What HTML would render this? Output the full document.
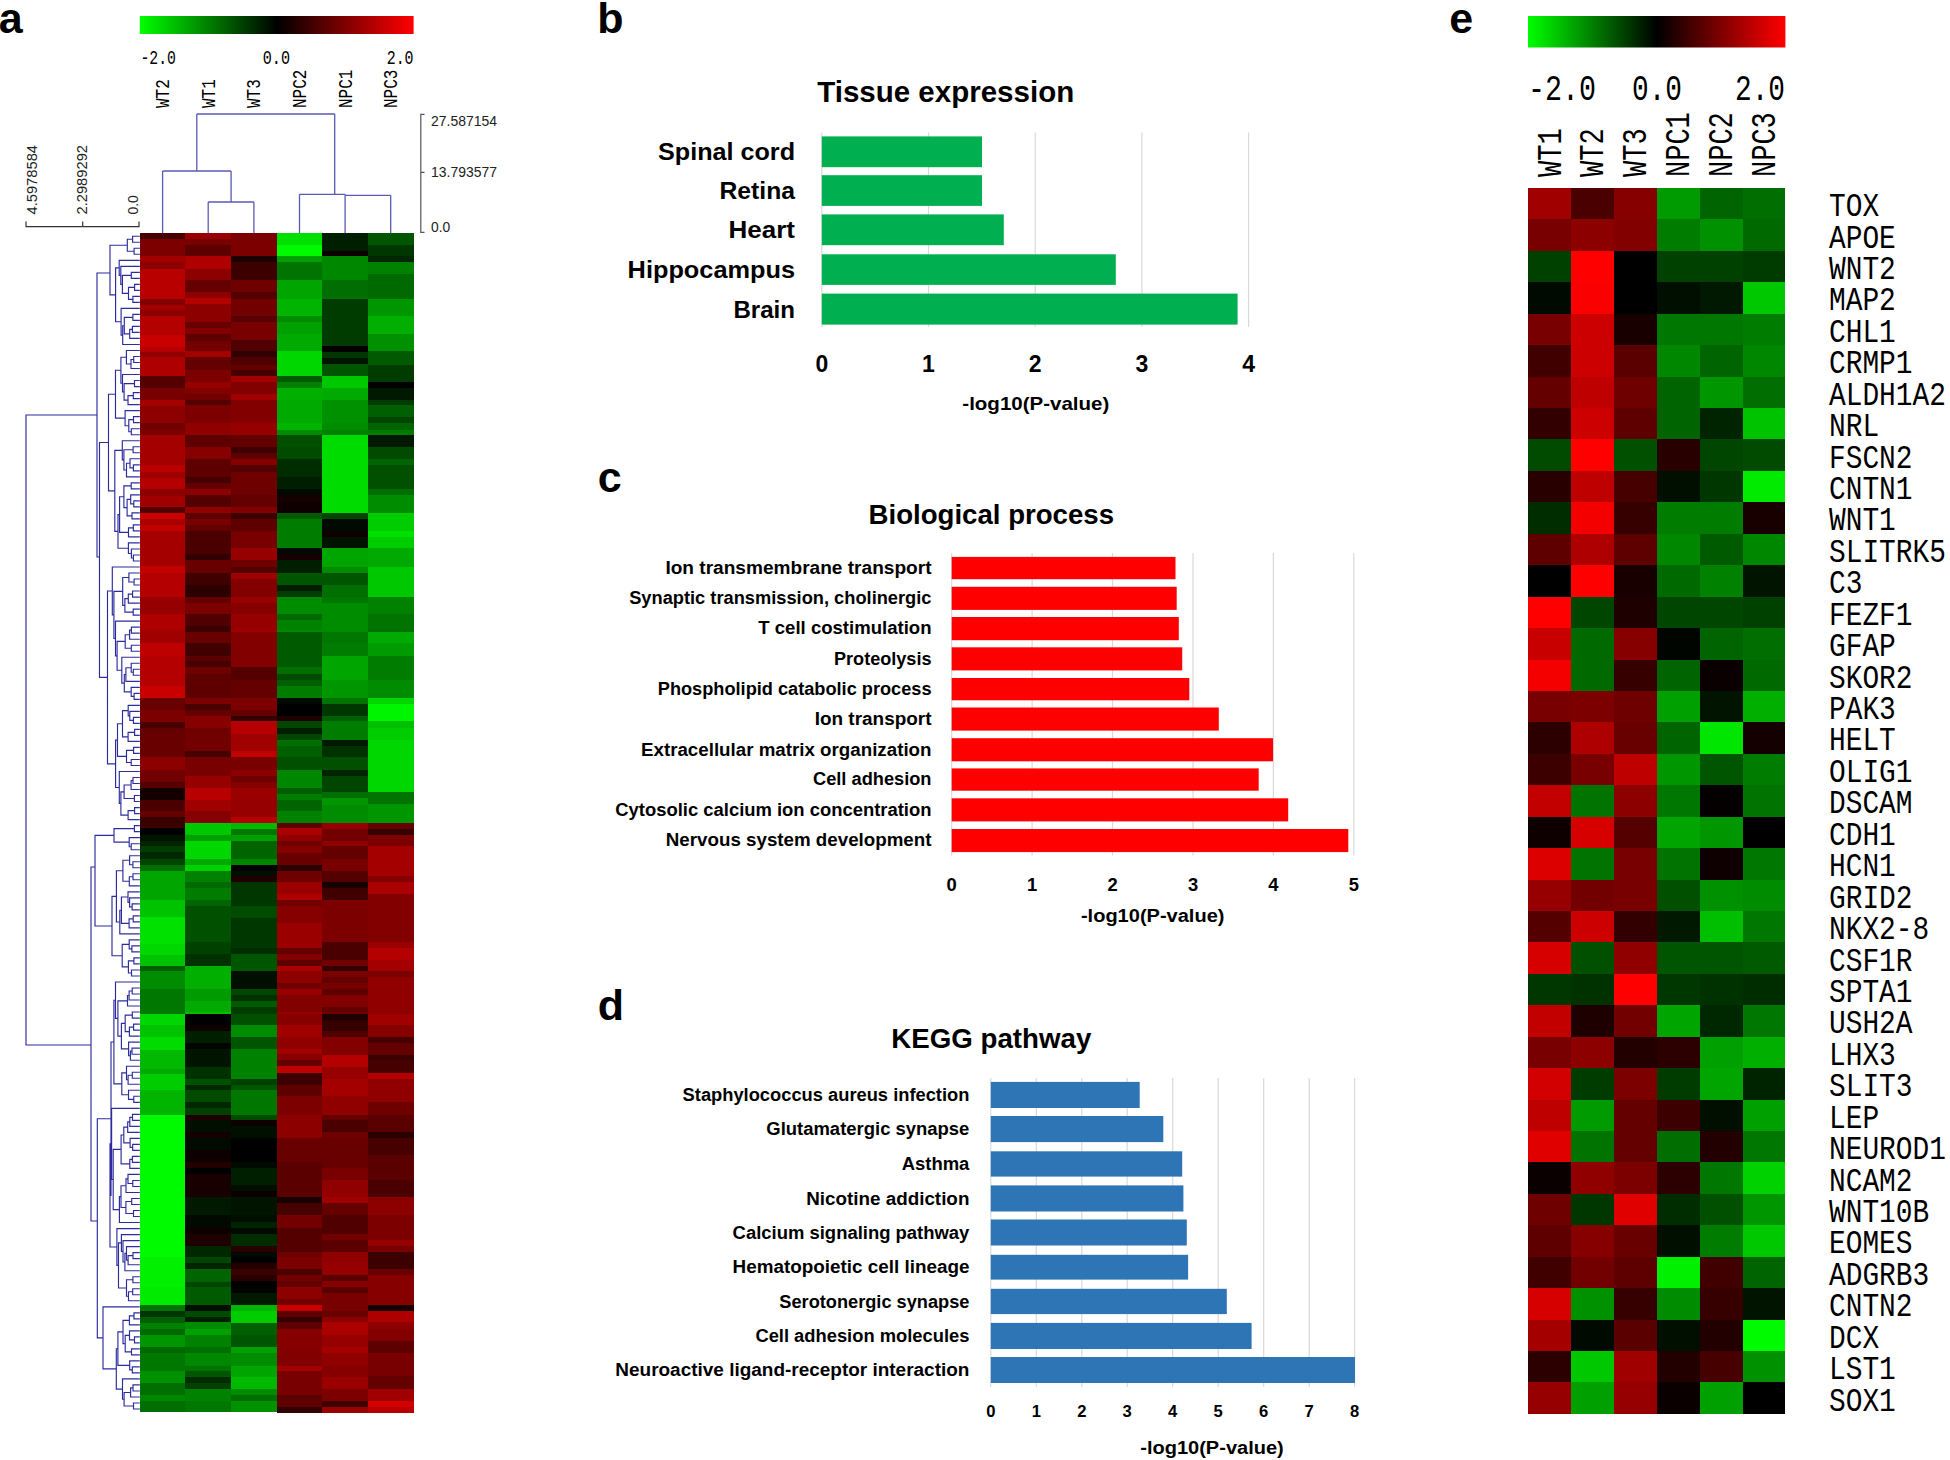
<!DOCTYPE html>
<html lang="en"><head><meta charset="utf-8"><title>Figure</title>
<style>html,body{margin:0;padding:0;background:#fff}svg{display:block}.s{font-family:"Liberation Sans",sans-serif}.m{font-family:"Liberation Mono",monospace}</style></head><body>
<svg width="1950" height="1460" viewBox="0 0 1950 1460">
<defs><linearGradient id="g" x1="0" x2="1" y1="0" y2="0"><stop offset="0" stop-color="#00ff00"/><stop offset="0.5" stop-color="#000"/><stop offset="1" stop-color="#ff0000"/></linearGradient></defs>
<rect width="1950" height="1460" fill="#fff"/>
<text class="s" x="-1.3" y="33.0" font-size="43.0" font-weight="bold">a</text>
<text class="s" x="597.2" y="32.5" font-size="43.0" font-weight="bold">b</text>
<text class="s" x="597.7" y="491.8" font-size="43.0" font-weight="bold">c</text>
<text class="s" x="597.8" y="1020.2" font-size="43.0" font-weight="bold">d</text>
<text class="s" x="1449.2" y="32.5" font-size="43.0" font-weight="bold">e</text>
<rect x="139.8" y="16" width="273.8" height="18" fill="url(#g)"/>
<text class="m" x="140.5" y="64.0" font-size="21.0" textLength="35.5" lengthAdjust="spacingAndGlyphs">-2.0</text>
<text class="m" x="262.7" y="64.0" font-size="21.0" textLength="27.3" lengthAdjust="spacingAndGlyphs">0.0</text>
<text class="m" x="386.7" y="64.0" font-size="21.0" textLength="26.9" lengthAdjust="spacingAndGlyphs">2.0</text>
<text class="m" x="169.1" y="108.0" font-size="20.3" textLength="28.8" lengthAdjust="spacingAndGlyphs" transform="rotate(-90 169.1 108.0)">WT2</text>
<text class="m" x="214.7" y="108.0" font-size="20.3" textLength="28.8" lengthAdjust="spacingAndGlyphs" transform="rotate(-90 214.7 108.0)">WT1</text>
<text class="m" x="260.4" y="108.0" font-size="20.3" textLength="28.8" lengthAdjust="spacingAndGlyphs" transform="rotate(-90 260.4 108.0)">WT3</text>
<text class="m" x="306.0" y="108.0" font-size="20.3" textLength="38.4" lengthAdjust="spacingAndGlyphs" transform="rotate(-90 306.0 108.0)">NPC2</text>
<text class="m" x="351.6" y="108.0" font-size="20.3" textLength="38.4" lengthAdjust="spacingAndGlyphs" transform="rotate(-90 351.6 108.0)">NPC1</text>
<text class="m" x="397.2" y="108.0" font-size="20.3" textLength="38.4" lengthAdjust="spacingAndGlyphs" transform="rotate(-90 397.2 108.0)">NPC3</text>
<g shape-rendering="crispEdges">
<rect x="139.8" y="233.2" width="45.9" height="6.0" fill="#460000"/>
<rect x="139.8" y="238.8" width="45.9" height="17.9" fill="#7d0000"/>
<rect x="139.8" y="256.3" width="45.9" height="6.2" fill="#a00000"/>
<rect x="139.8" y="262.2" width="45.9" height="7.0" fill="#8c0000"/>
<rect x="139.8" y="268.7" width="45.9" height="30.4" fill="#b90000"/>
<rect x="139.8" y="298.7" width="45.9" height="6.2" fill="#820000"/>
<rect x="139.8" y="304.5" width="45.9" height="6.2" fill="#a50000"/>
<rect x="139.8" y="310.4" width="45.9" height="6.2" fill="#8c0000"/>
<rect x="139.8" y="316.2" width="45.9" height="19.4" fill="#b40000"/>
<rect x="139.8" y="335.2" width="45.9" height="12.1" fill="#c80000"/>
<rect x="139.8" y="346.9" width="45.9" height="5.5" fill="#b40000"/>
<rect x="139.8" y="352.0" width="45.9" height="5.5" fill="#910000"/>
<rect x="139.8" y="357.2" width="45.9" height="19.4" fill="#af0000"/>
<rect x="139.8" y="376.2" width="45.9" height="12.1" fill="#550000"/>
<rect x="139.8" y="387.8" width="45.9" height="12.1" fill="#780000"/>
<rect x="139.8" y="399.5" width="45.9" height="7.0" fill="#a50000"/>
<rect x="139.8" y="406.1" width="45.9" height="17.2" fill="#8c0000"/>
<rect x="139.8" y="422.9" width="45.9" height="7.4" fill="#730000"/>
<rect x="139.8" y="430.0" width="45.9" height="5.5" fill="#7d0000"/>
<rect x="139.8" y="435.1" width="45.9" height="30.4" fill="#a50000"/>
<rect x="139.8" y="465.1" width="45.9" height="7.0" fill="#b90000"/>
<rect x="139.8" y="471.7" width="45.9" height="6.2" fill="#a00000"/>
<rect x="139.8" y="477.5" width="45.9" height="11.4" fill="#b40000"/>
<rect x="139.8" y="488.5" width="45.9" height="7.7" fill="#8c0000"/>
<rect x="139.8" y="495.8" width="45.9" height="11.4" fill="#a00000"/>
<rect x="139.8" y="506.7" width="45.9" height="6.2" fill="#500000"/>
<rect x="139.8" y="512.6" width="45.9" height="7.0" fill="#cd0000"/>
<rect x="139.8" y="519.2" width="45.9" height="6.2" fill="#aa0000"/>
<rect x="139.8" y="525.0" width="45.9" height="6.2" fill="#c30000"/>
<rect x="139.8" y="530.8" width="45.9" height="35.5" fill="#a50000"/>
<rect x="139.8" y="565.9" width="45.9" height="7.0" fill="#c30000"/>
<rect x="139.8" y="572.5" width="45.9" height="24.5" fill="#b40000"/>
<rect x="139.8" y="596.6" width="45.9" height="17.9" fill="#960000"/>
<rect x="139.8" y="614.2" width="45.9" height="16.2" fill="#af0000"/>
<rect x="139.8" y="630.0" width="45.9" height="13.6" fill="#a00000"/>
<rect x="139.8" y="643.2" width="45.9" height="13.6" fill="#be0000"/>
<rect x="139.8" y="656.3" width="45.9" height="29.6" fill="#b40000"/>
<rect x="139.8" y="685.5" width="45.9" height="12.8" fill="#c80000"/>
<rect x="139.8" y="698.0" width="45.9" height="12.8" fill="#690000"/>
<rect x="139.8" y="710.4" width="45.9" height="12.1" fill="#7d0000"/>
<rect x="139.8" y="722.1" width="45.9" height="6.2" fill="#460000"/>
<rect x="139.8" y="727.9" width="45.9" height="6.2" fill="#640000"/>
<rect x="139.8" y="733.8" width="45.9" height="23.8" fill="#690000"/>
<rect x="139.8" y="757.2" width="45.9" height="12.8" fill="#8c0000"/>
<rect x="139.8" y="769.6" width="45.9" height="12.8" fill="#730000"/>
<rect x="139.8" y="782.0" width="45.9" height="6.2" fill="#550000"/>
<rect x="139.8" y="787.8" width="45.9" height="12.1" fill="#140000"/>
<rect x="139.8" y="799.5" width="45.9" height="12.1" fill="#4b0000"/>
<rect x="139.8" y="811.2" width="45.9" height="6.2" fill="#640000"/>
<rect x="139.8" y="817.1" width="45.9" height="6.0" fill="#370000"/>
<rect x="139.8" y="822.6" width="45.9" height="6.0" fill="#3c0000"/>
<rect x="139.8" y="828.2" width="45.9" height="7.0" fill="#000000"/>
<rect x="139.8" y="834.7" width="45.9" height="6.2" fill="#001400"/>
<rect x="139.8" y="840.6" width="45.9" height="6.2" fill="#002300"/>
<rect x="139.8" y="846.4" width="45.9" height="6.2" fill="#003c00"/>
<rect x="139.8" y="852.3" width="45.9" height="7.0" fill="#002800"/>
<rect x="139.8" y="858.8" width="45.9" height="6.2" fill="#004600"/>
<rect x="139.8" y="864.7" width="45.9" height="6.2" fill="#006e00"/>
<rect x="139.8" y="870.5" width="45.9" height="29.6" fill="#00a500"/>
<rect x="139.8" y="899.8" width="45.9" height="17.9" fill="#00c300"/>
<rect x="139.8" y="917.3" width="45.9" height="26.7" fill="#00e100"/>
<rect x="139.8" y="943.6" width="45.9" height="12.1" fill="#00d700"/>
<rect x="139.8" y="955.3" width="45.9" height="11.4" fill="#00c300"/>
<rect x="139.8" y="966.3" width="45.9" height="5.5" fill="#005f00"/>
<rect x="139.8" y="971.4" width="45.9" height="17.9" fill="#008c00"/>
<rect x="139.8" y="988.9" width="45.9" height="23.8" fill="#007800"/>
<rect x="139.8" y="1012.3" width="45.9" height="1.7" fill="#007800"/>
<rect x="139.8" y="1013.7" width="45.9" height="12.1" fill="#00d700"/>
<rect x="139.8" y="1025.3" width="45.9" height="12.1" fill="#00c300"/>
<rect x="139.8" y="1037.0" width="45.9" height="12.8" fill="#00dc00"/>
<rect x="139.8" y="1049.5" width="45.9" height="19.4" fill="#00b900"/>
<rect x="139.8" y="1068.5" width="45.9" height="6.2" fill="#00aa00"/>
<rect x="139.8" y="1074.3" width="45.9" height="16.5" fill="#00cd00"/>
<rect x="139.8" y="1090.4" width="45.9" height="24.5" fill="#00b400"/>
<rect x="139.8" y="1114.5" width="45.9" height="100.5" fill="#00fa00"/>
<rect x="139.8" y="1214.6" width="45.9" height="43.2" fill="#00fa00"/>
<rect x="139.8" y="1257.4" width="45.9" height="29.6" fill="#00f000"/>
<rect x="139.8" y="1286.6" width="45.9" height="18.7" fill="#00eb00"/>
<rect x="139.8" y="1304.9" width="45.9" height="6.2" fill="#007300"/>
<rect x="139.8" y="1310.7" width="45.9" height="7.0" fill="#003700"/>
<rect x="139.8" y="1317.3" width="45.9" height="6.2" fill="#005f00"/>
<rect x="139.8" y="1323.2" width="45.9" height="6.2" fill="#008200"/>
<rect x="139.8" y="1329.0" width="45.9" height="6.2" fill="#006900"/>
<rect x="139.8" y="1334.8" width="45.9" height="12.1" fill="#009600"/>
<rect x="139.8" y="1346.5" width="45.9" height="7.0" fill="#006900"/>
<rect x="139.8" y="1353.1" width="45.9" height="18.7" fill="#007800"/>
<rect x="139.8" y="1371.4" width="45.9" height="12.1" fill="#009100"/>
<rect x="139.8" y="1383.1" width="45.9" height="12.1" fill="#006e00"/>
<rect x="139.8" y="1394.8" width="45.9" height="6.2" fill="#008700"/>
<rect x="139.8" y="1400.6" width="45.9" height="11.8" fill="#006e00"/>
<rect x="185.4" y="233.2" width="45.9" height="6.0" fill="#960000"/>
<rect x="185.4" y="238.8" width="45.9" height="6.2" fill="#780000"/>
<rect x="185.4" y="244.6" width="45.9" height="12.1" fill="#5f0000"/>
<rect x="185.4" y="256.3" width="45.9" height="12.8" fill="#af0000"/>
<rect x="185.4" y="268.7" width="45.9" height="12.1" fill="#8c0000"/>
<rect x="185.4" y="280.4" width="45.9" height="12.1" fill="#640000"/>
<rect x="185.4" y="292.1" width="45.9" height="6.2" fill="#8c0000"/>
<rect x="185.4" y="298.0" width="45.9" height="6.2" fill="#b40000"/>
<rect x="185.4" y="303.8" width="45.9" height="18.7" fill="#8c0000"/>
<rect x="185.4" y="322.1" width="45.9" height="6.2" fill="#690000"/>
<rect x="185.4" y="327.9" width="45.9" height="6.2" fill="#820000"/>
<rect x="185.4" y="333.8" width="45.9" height="7.7" fill="#5f0000"/>
<rect x="185.4" y="341.1" width="45.9" height="10.6" fill="#730000"/>
<rect x="185.4" y="351.3" width="45.9" height="6.2" fill="#a50000"/>
<rect x="185.4" y="357.2" width="45.9" height="13.6" fill="#640000"/>
<rect x="185.4" y="370.3" width="45.9" height="12.1" fill="#7d0000"/>
<rect x="185.4" y="382.0" width="45.9" height="6.2" fill="#960000"/>
<rect x="185.4" y="387.8" width="45.9" height="6.2" fill="#820000"/>
<rect x="185.4" y="393.7" width="45.9" height="6.2" fill="#730000"/>
<rect x="185.4" y="399.5" width="45.9" height="6.2" fill="#550000"/>
<rect x="185.4" y="405.4" width="45.9" height="17.9" fill="#7d0000"/>
<rect x="185.4" y="422.9" width="45.9" height="7.4" fill="#910000"/>
<rect x="185.4" y="430.0" width="45.9" height="5.5" fill="#910000"/>
<rect x="185.4" y="435.1" width="45.9" height="12.1" fill="#5f0000"/>
<rect x="185.4" y="446.8" width="45.9" height="12.8" fill="#870000"/>
<rect x="185.4" y="459.2" width="45.9" height="17.9" fill="#5f0000"/>
<rect x="185.4" y="476.8" width="45.9" height="6.2" fill="#460000"/>
<rect x="185.4" y="482.6" width="45.9" height="6.2" fill="#640000"/>
<rect x="185.4" y="488.5" width="45.9" height="7.0" fill="#8c0000"/>
<rect x="185.4" y="495.0" width="45.9" height="12.1" fill="#550000"/>
<rect x="185.4" y="506.7" width="45.9" height="6.2" fill="#910000"/>
<rect x="185.4" y="512.6" width="45.9" height="7.0" fill="#5f0000"/>
<rect x="185.4" y="519.2" width="45.9" height="6.2" fill="#780000"/>
<rect x="185.4" y="525.0" width="45.9" height="6.2" fill="#640000"/>
<rect x="185.4" y="530.8" width="45.9" height="23.8" fill="#4b0000"/>
<rect x="185.4" y="554.2" width="45.9" height="6.2" fill="#320000"/>
<rect x="185.4" y="560.1" width="45.9" height="12.8" fill="#690000"/>
<rect x="185.4" y="572.5" width="45.9" height="12.8" fill="#410000"/>
<rect x="185.4" y="584.9" width="45.9" height="12.1" fill="#2d0000"/>
<rect x="185.4" y="596.6" width="45.9" height="6.2" fill="#640000"/>
<rect x="185.4" y="602.5" width="45.9" height="12.1" fill="#7d0000"/>
<rect x="185.4" y="614.2" width="45.9" height="12.1" fill="#500000"/>
<rect x="185.4" y="625.8" width="45.9" height="4.5" fill="#3c0000"/>
<rect x="185.4" y="630.0" width="45.9" height="2.6" fill="#3c0000"/>
<rect x="185.4" y="632.2" width="45.9" height="11.4" fill="#690000"/>
<rect x="185.4" y="643.2" width="45.9" height="13.6" fill="#410000"/>
<rect x="185.4" y="656.3" width="45.9" height="5.5" fill="#5a0000"/>
<rect x="185.4" y="661.4" width="45.9" height="6.2" fill="#460000"/>
<rect x="185.4" y="667.3" width="45.9" height="7.0" fill="#6e0000"/>
<rect x="185.4" y="673.8" width="45.9" height="24.5" fill="#5f0000"/>
<rect x="185.4" y="698.0" width="45.9" height="6.2" fill="#7d0000"/>
<rect x="185.4" y="703.8" width="45.9" height="6.2" fill="#4b0000"/>
<rect x="185.4" y="709.7" width="45.9" height="6.2" fill="#640000"/>
<rect x="185.4" y="715.5" width="45.9" height="12.8" fill="#870000"/>
<rect x="185.4" y="727.9" width="45.9" height="6.2" fill="#6e0000"/>
<rect x="185.4" y="733.8" width="45.9" height="17.9" fill="#730000"/>
<rect x="185.4" y="751.3" width="45.9" height="6.2" fill="#460000"/>
<rect x="185.4" y="757.2" width="45.9" height="19.4" fill="#780000"/>
<rect x="185.4" y="776.2" width="45.9" height="12.1" fill="#960000"/>
<rect x="185.4" y="787.8" width="45.9" height="12.1" fill="#b90000"/>
<rect x="185.4" y="799.5" width="45.9" height="12.1" fill="#a00000"/>
<rect x="185.4" y="811.2" width="45.9" height="11.8" fill="#870000"/>
<rect x="185.4" y="822.6" width="45.9" height="12.5" fill="#00c800"/>
<rect x="185.4" y="834.7" width="45.9" height="6.2" fill="#00a000"/>
<rect x="185.4" y="840.6" width="45.9" height="18.7" fill="#00d700"/>
<rect x="185.4" y="858.8" width="45.9" height="6.2" fill="#00aa00"/>
<rect x="185.4" y="864.7" width="45.9" height="6.2" fill="#00d200"/>
<rect x="185.4" y="870.5" width="45.9" height="12.1" fill="#008200"/>
<rect x="185.4" y="882.2" width="45.9" height="6.2" fill="#006900"/>
<rect x="185.4" y="888.1" width="45.9" height="12.1" fill="#007d00"/>
<rect x="185.4" y="899.8" width="45.9" height="6.2" fill="#006400"/>
<rect x="185.4" y="905.6" width="45.9" height="36.9" fill="#005000"/>
<rect x="185.4" y="942.2" width="45.9" height="12.1" fill="#004100"/>
<rect x="185.4" y="953.8" width="45.9" height="12.1" fill="#003200"/>
<rect x="185.4" y="965.5" width="45.9" height="23.8" fill="#00af00"/>
<rect x="185.4" y="988.9" width="45.9" height="12.1" fill="#009b00"/>
<rect x="185.4" y="1000.6" width="45.9" height="12.1" fill="#00aa00"/>
<rect x="185.4" y="1012.3" width="45.9" height="1.7" fill="#00be00"/>
<rect x="185.4" y="1013.7" width="45.9" height="12.1" fill="#000000"/>
<rect x="185.4" y="1025.3" width="45.9" height="6.2" fill="#0f0000"/>
<rect x="185.4" y="1031.2" width="45.9" height="12.1" fill="#001e00"/>
<rect x="185.4" y="1042.9" width="45.9" height="6.2" fill="#000500"/>
<rect x="185.4" y="1048.7" width="45.9" height="18.7" fill="#001400"/>
<rect x="185.4" y="1067.0" width="45.9" height="12.1" fill="#003200"/>
<rect x="185.4" y="1078.7" width="45.9" height="6.2" fill="#005000"/>
<rect x="185.4" y="1084.5" width="45.9" height="6.2" fill="#002800"/>
<rect x="185.4" y="1090.4" width="45.9" height="12.1" fill="#004b00"/>
<rect x="185.4" y="1102.1" width="45.9" height="6.2" fill="#002800"/>
<rect x="185.4" y="1107.9" width="45.9" height="7.0" fill="#004100"/>
<rect x="185.4" y="1114.5" width="45.9" height="6.2" fill="#1e0000"/>
<rect x="185.4" y="1120.3" width="45.9" height="12.1" fill="#000f00"/>
<rect x="185.4" y="1132.0" width="45.9" height="6.2" fill="#140000"/>
<rect x="185.4" y="1137.9" width="45.9" height="12.1" fill="#000a00"/>
<rect x="185.4" y="1149.6" width="45.9" height="12.8" fill="#0f0000"/>
<rect x="185.4" y="1162.0" width="45.9" height="6.2" fill="#230000"/>
<rect x="185.4" y="1167.8" width="45.9" height="6.2" fill="#000000"/>
<rect x="185.4" y="1173.7" width="45.9" height="23.8" fill="#190000"/>
<rect x="185.4" y="1197.1" width="45.9" height="17.9" fill="#001900"/>
<rect x="185.4" y="1214.6" width="45.9" height="13.9" fill="#000a00"/>
<rect x="185.4" y="1228.2" width="45.9" height="6.2" fill="#0f0000"/>
<rect x="185.4" y="1234.0" width="45.9" height="12.1" fill="#1e0000"/>
<rect x="185.4" y="1245.7" width="45.9" height="12.1" fill="#002800"/>
<rect x="185.4" y="1257.4" width="45.9" height="6.2" fill="#004600"/>
<rect x="185.4" y="1263.2" width="45.9" height="6.2" fill="#002300"/>
<rect x="185.4" y="1269.1" width="45.9" height="12.8" fill="#006400"/>
<rect x="185.4" y="1281.5" width="45.9" height="6.2" fill="#004600"/>
<rect x="185.4" y="1287.3" width="45.9" height="17.9" fill="#005a00"/>
<rect x="185.4" y="1304.9" width="45.9" height="6.2" fill="#000f00"/>
<rect x="185.4" y="1310.7" width="45.9" height="6.2" fill="#004b00"/>
<rect x="185.4" y="1316.6" width="45.9" height="6.2" fill="#001e00"/>
<rect x="185.4" y="1322.4" width="45.9" height="7.0" fill="#008c00"/>
<rect x="185.4" y="1329.0" width="45.9" height="6.2" fill="#00a000"/>
<rect x="185.4" y="1334.8" width="45.9" height="12.1" fill="#008200"/>
<rect x="185.4" y="1346.5" width="45.9" height="7.0" fill="#006e00"/>
<rect x="185.4" y="1353.1" width="45.9" height="12.8" fill="#008700"/>
<rect x="185.4" y="1365.5" width="45.9" height="6.2" fill="#007300"/>
<rect x="185.4" y="1371.4" width="45.9" height="6.2" fill="#005500"/>
<rect x="185.4" y="1377.2" width="45.9" height="6.2" fill="#002d00"/>
<rect x="185.4" y="1383.1" width="45.9" height="6.2" fill="#004100"/>
<rect x="185.4" y="1388.9" width="45.9" height="12.1" fill="#008200"/>
<rect x="185.4" y="1400.6" width="45.9" height="11.8" fill="#007800"/>
<rect x="231.1" y="233.2" width="45.9" height="23.5" fill="#7d0000"/>
<rect x="231.1" y="256.3" width="45.9" height="6.2" fill="#1e0000"/>
<rect x="231.1" y="262.2" width="45.9" height="18.7" fill="#3c0000"/>
<rect x="231.1" y="280.4" width="45.9" height="12.1" fill="#6e0000"/>
<rect x="231.1" y="292.1" width="45.9" height="7.0" fill="#550000"/>
<rect x="231.1" y="298.7" width="45.9" height="17.9" fill="#730000"/>
<rect x="231.1" y="316.2" width="45.9" height="6.2" fill="#5a0000"/>
<rect x="231.1" y="322.1" width="45.9" height="17.9" fill="#780000"/>
<rect x="231.1" y="339.6" width="45.9" height="12.1" fill="#500000"/>
<rect x="231.1" y="351.3" width="45.9" height="6.2" fill="#320000"/>
<rect x="231.1" y="357.2" width="45.9" height="7.7" fill="#500000"/>
<rect x="231.1" y="364.5" width="45.9" height="6.2" fill="#640000"/>
<rect x="231.1" y="370.3" width="45.9" height="6.2" fill="#460000"/>
<rect x="231.1" y="376.2" width="45.9" height="6.2" fill="#a50000"/>
<rect x="231.1" y="382.0" width="45.9" height="12.1" fill="#820000"/>
<rect x="231.1" y="393.7" width="45.9" height="6.2" fill="#a00000"/>
<rect x="231.1" y="399.5" width="45.9" height="23.8" fill="#820000"/>
<rect x="231.1" y="422.9" width="45.9" height="7.4" fill="#960000"/>
<rect x="231.1" y="430.0" width="45.9" height="5.5" fill="#960000"/>
<rect x="231.1" y="435.1" width="45.9" height="12.1" fill="#640000"/>
<rect x="231.1" y="446.8" width="45.9" height="7.0" fill="#3c0000"/>
<rect x="231.1" y="453.4" width="45.9" height="6.2" fill="#5f0000"/>
<rect x="231.1" y="459.2" width="45.9" height="6.2" fill="#870000"/>
<rect x="231.1" y="465.1" width="45.9" height="7.0" fill="#550000"/>
<rect x="231.1" y="471.7" width="45.9" height="23.8" fill="#6e0000"/>
<rect x="231.1" y="495.0" width="45.9" height="12.1" fill="#640000"/>
<rect x="231.1" y="506.7" width="45.9" height="6.2" fill="#820000"/>
<rect x="231.1" y="512.6" width="45.9" height="7.0" fill="#3c0000"/>
<rect x="231.1" y="519.2" width="45.9" height="12.1" fill="#5f0000"/>
<rect x="231.1" y="530.8" width="45.9" height="17.9" fill="#780000"/>
<rect x="231.1" y="548.4" width="45.9" height="12.1" fill="#960000"/>
<rect x="231.1" y="560.1" width="45.9" height="7.0" fill="#6e0000"/>
<rect x="231.1" y="566.7" width="45.9" height="6.2" fill="#550000"/>
<rect x="231.1" y="572.5" width="45.9" height="7.0" fill="#a00000"/>
<rect x="231.1" y="579.1" width="45.9" height="17.9" fill="#820000"/>
<rect x="231.1" y="596.6" width="45.9" height="6.2" fill="#9b0000"/>
<rect x="231.1" y="602.5" width="45.9" height="12.1" fill="#870000"/>
<rect x="231.1" y="614.2" width="45.9" height="16.2" fill="#960000"/>
<rect x="231.1" y="630.0" width="45.9" height="2.6" fill="#a00000"/>
<rect x="231.1" y="632.2" width="45.9" height="35.5" fill="#820000"/>
<rect x="231.1" y="667.3" width="45.9" height="12.8" fill="#550000"/>
<rect x="231.1" y="679.7" width="45.9" height="18.7" fill="#640000"/>
<rect x="231.1" y="698.0" width="45.9" height="12.1" fill="#7d0000"/>
<rect x="231.1" y="709.7" width="45.9" height="7.0" fill="#640000"/>
<rect x="231.1" y="716.2" width="45.9" height="5.5" fill="#320000"/>
<rect x="231.1" y="721.3" width="45.9" height="12.8" fill="#b40000"/>
<rect x="231.1" y="733.8" width="45.9" height="17.9" fill="#a00000"/>
<rect x="231.1" y="751.3" width="45.9" height="6.2" fill="#be0000"/>
<rect x="231.1" y="757.2" width="45.9" height="12.8" fill="#780000"/>
<rect x="231.1" y="769.6" width="45.9" height="7.0" fill="#8c0000"/>
<rect x="231.1" y="776.2" width="45.9" height="6.2" fill="#6e0000"/>
<rect x="231.1" y="782.0" width="45.9" height="6.2" fill="#870000"/>
<rect x="231.1" y="787.8" width="45.9" height="12.1" fill="#9b0000"/>
<rect x="231.1" y="799.5" width="45.9" height="17.9" fill="#960000"/>
<rect x="231.1" y="817.1" width="45.9" height="6.0" fill="#b40000"/>
<rect x="231.1" y="822.6" width="45.9" height="6.7" fill="#00b900"/>
<rect x="231.1" y="828.9" width="45.9" height="6.2" fill="#007800"/>
<rect x="231.1" y="834.7" width="45.9" height="6.2" fill="#00a000"/>
<rect x="231.1" y="840.6" width="45.9" height="18.7" fill="#006400"/>
<rect x="231.1" y="858.8" width="45.9" height="6.2" fill="#008700"/>
<rect x="231.1" y="864.7" width="45.9" height="6.2" fill="#000000"/>
<rect x="231.1" y="870.5" width="45.9" height="6.2" fill="#000f00"/>
<rect x="231.1" y="876.4" width="45.9" height="6.2" fill="#1e0000"/>
<rect x="231.1" y="882.2" width="45.9" height="23.8" fill="#003700"/>
<rect x="231.1" y="905.6" width="45.9" height="12.8" fill="#004b00"/>
<rect x="231.1" y="918.0" width="45.9" height="30.4" fill="#003700"/>
<rect x="231.1" y="948.0" width="45.9" height="6.2" fill="#002d00"/>
<rect x="231.1" y="953.8" width="45.9" height="17.9" fill="#005500"/>
<rect x="231.1" y="971.4" width="45.9" height="17.9" fill="#000f00"/>
<rect x="231.1" y="988.9" width="45.9" height="6.2" fill="#004600"/>
<rect x="231.1" y="994.8" width="45.9" height="6.2" fill="#003200"/>
<rect x="231.1" y="1000.6" width="45.9" height="6.2" fill="#005a00"/>
<rect x="231.1" y="1006.5" width="45.9" height="6.2" fill="#003c00"/>
<rect x="231.1" y="1012.3" width="45.9" height="1.7" fill="#003c00"/>
<rect x="231.1" y="1013.7" width="45.9" height="12.1" fill="#005000"/>
<rect x="231.1" y="1025.3" width="45.9" height="12.1" fill="#008c00"/>
<rect x="231.1" y="1037.0" width="45.9" height="12.1" fill="#005500"/>
<rect x="231.1" y="1048.7" width="45.9" height="30.4" fill="#008200"/>
<rect x="231.1" y="1078.7" width="45.9" height="6.2" fill="#004100"/>
<rect x="231.1" y="1084.5" width="45.9" height="6.2" fill="#005500"/>
<rect x="231.1" y="1090.4" width="45.9" height="24.5" fill="#007800"/>
<rect x="231.1" y="1114.5" width="45.9" height="6.2" fill="#004b00"/>
<rect x="231.1" y="1120.3" width="45.9" height="6.2" fill="#0f0000"/>
<rect x="231.1" y="1126.2" width="45.9" height="12.1" fill="#000f00"/>
<rect x="231.1" y="1137.9" width="45.9" height="24.5" fill="#000000"/>
<rect x="231.1" y="1162.0" width="45.9" height="6.2" fill="#000a00"/>
<rect x="231.1" y="1167.8" width="45.9" height="17.9" fill="#001e00"/>
<rect x="231.1" y="1185.4" width="45.9" height="6.2" fill="#000f00"/>
<rect x="231.1" y="1191.2" width="45.9" height="6.2" fill="#0a0000"/>
<rect x="231.1" y="1197.1" width="45.9" height="17.9" fill="#001400"/>
<rect x="231.1" y="1214.6" width="45.9" height="7.4" fill="#000f00"/>
<rect x="231.1" y="1221.6" width="45.9" height="7.0" fill="#002300"/>
<rect x="231.1" y="1228.2" width="45.9" height="6.2" fill="#000a00"/>
<rect x="231.1" y="1234.0" width="45.9" height="12.1" fill="#002d00"/>
<rect x="231.1" y="1245.7" width="45.9" height="6.2" fill="#280000"/>
<rect x="231.1" y="1251.5" width="45.9" height="6.2" fill="#000a00"/>
<rect x="231.1" y="1257.4" width="45.9" height="6.2" fill="#000000"/>
<rect x="231.1" y="1263.2" width="45.9" height="6.2" fill="#230000"/>
<rect x="231.1" y="1269.1" width="45.9" height="6.2" fill="#3c0000"/>
<rect x="231.1" y="1274.9" width="45.9" height="6.2" fill="#280000"/>
<rect x="231.1" y="1280.8" width="45.9" height="6.2" fill="#000000"/>
<rect x="231.1" y="1286.6" width="45.9" height="6.2" fill="#000500"/>
<rect x="231.1" y="1292.5" width="45.9" height="12.8" fill="#001900"/>
<rect x="231.1" y="1304.9" width="45.9" height="6.2" fill="#00b400"/>
<rect x="231.1" y="1310.7" width="45.9" height="12.8" fill="#00cd00"/>
<rect x="231.1" y="1323.2" width="45.9" height="12.1" fill="#005f00"/>
<rect x="231.1" y="1334.8" width="45.9" height="12.1" fill="#005500"/>
<rect x="231.1" y="1346.5" width="45.9" height="7.0" fill="#00a000"/>
<rect x="231.1" y="1353.1" width="45.9" height="12.8" fill="#008c00"/>
<rect x="231.1" y="1365.5" width="45.9" height="12.1" fill="#00a500"/>
<rect x="231.1" y="1377.2" width="45.9" height="12.1" fill="#00b900"/>
<rect x="231.1" y="1388.9" width="45.9" height="6.2" fill="#008c00"/>
<rect x="231.1" y="1394.8" width="45.9" height="6.2" fill="#006e00"/>
<rect x="231.1" y="1400.6" width="45.9" height="11.8" fill="#009100"/>
<rect x="276.7" y="233.2" width="45.9" height="11.8" fill="#00e100"/>
<rect x="276.7" y="244.6" width="45.9" height="12.1" fill="#00fa00"/>
<rect x="276.7" y="256.3" width="45.9" height="6.2" fill="#00a000"/>
<rect x="276.7" y="262.2" width="45.9" height="18.7" fill="#007300"/>
<rect x="276.7" y="280.4" width="45.9" height="18.7" fill="#00a500"/>
<rect x="276.7" y="298.7" width="45.9" height="17.9" fill="#00b400"/>
<rect x="276.7" y="316.2" width="45.9" height="6.2" fill="#008c00"/>
<rect x="276.7" y="322.1" width="45.9" height="12.1" fill="#00a000"/>
<rect x="276.7" y="333.8" width="45.9" height="17.9" fill="#00aa00"/>
<rect x="276.7" y="351.3" width="45.9" height="25.2" fill="#00d700"/>
<rect x="276.7" y="376.2" width="45.9" height="6.2" fill="#005a00"/>
<rect x="276.7" y="382.0" width="45.9" height="6.2" fill="#008200"/>
<rect x="276.7" y="387.8" width="45.9" height="12.1" fill="#00af00"/>
<rect x="276.7" y="399.5" width="45.9" height="23.8" fill="#00aa00"/>
<rect x="276.7" y="422.9" width="45.9" height="7.4" fill="#00b400"/>
<rect x="276.7" y="430.0" width="45.9" height="5.5" fill="#008c00"/>
<rect x="276.7" y="435.1" width="45.9" height="12.1" fill="#005000"/>
<rect x="276.7" y="446.8" width="45.9" height="12.8" fill="#004b00"/>
<rect x="276.7" y="459.2" width="45.9" height="17.9" fill="#002d00"/>
<rect x="276.7" y="476.8" width="45.9" height="12.1" fill="#001e00"/>
<rect x="276.7" y="488.5" width="45.9" height="7.0" fill="#000a00"/>
<rect x="276.7" y="495.0" width="45.9" height="7.0" fill="#140000"/>
<rect x="276.7" y="501.6" width="45.9" height="11.4" fill="#0f0000"/>
<rect x="276.7" y="512.6" width="45.9" height="7.0" fill="#005a00"/>
<rect x="276.7" y="519.2" width="45.9" height="29.6" fill="#007d00"/>
<rect x="276.7" y="548.4" width="45.9" height="6.2" fill="#000a00"/>
<rect x="276.7" y="554.2" width="45.9" height="6.2" fill="#190000"/>
<rect x="276.7" y="560.1" width="45.9" height="12.8" fill="#001e00"/>
<rect x="276.7" y="572.5" width="45.9" height="12.8" fill="#005500"/>
<rect x="276.7" y="584.9" width="45.9" height="6.2" fill="#001e00"/>
<rect x="276.7" y="590.8" width="45.9" height="6.2" fill="#003c00"/>
<rect x="276.7" y="596.6" width="45.9" height="17.9" fill="#008c00"/>
<rect x="276.7" y="614.2" width="45.9" height="6.2" fill="#006900"/>
<rect x="276.7" y="620.0" width="45.9" height="10.3" fill="#008200"/>
<rect x="276.7" y="630.0" width="45.9" height="2.6" fill="#008c00"/>
<rect x="276.7" y="632.2" width="45.9" height="35.5" fill="#005a00"/>
<rect x="276.7" y="667.3" width="45.9" height="7.0" fill="#006e00"/>
<rect x="276.7" y="673.8" width="45.9" height="6.2" fill="#004b00"/>
<rect x="276.7" y="679.7" width="45.9" height="6.2" fill="#005f00"/>
<rect x="276.7" y="685.5" width="45.9" height="12.8" fill="#007d00"/>
<rect x="276.7" y="698.0" width="45.9" height="6.2" fill="#000a00"/>
<rect x="276.7" y="703.8" width="45.9" height="12.1" fill="#000000"/>
<rect x="276.7" y="715.5" width="45.9" height="6.2" fill="#1e0000"/>
<rect x="276.7" y="721.3" width="45.9" height="7.0" fill="#004600"/>
<rect x="276.7" y="727.9" width="45.9" height="6.2" fill="#001e00"/>
<rect x="276.7" y="733.8" width="45.9" height="6.2" fill="#004600"/>
<rect x="276.7" y="739.6" width="45.9" height="6.2" fill="#006e00"/>
<rect x="276.7" y="745.5" width="45.9" height="12.1" fill="#005f00"/>
<rect x="276.7" y="757.2" width="45.9" height="12.8" fill="#005000"/>
<rect x="276.7" y="769.6" width="45.9" height="18.7" fill="#008700"/>
<rect x="276.7" y="787.8" width="45.9" height="6.2" fill="#005f00"/>
<rect x="276.7" y="793.7" width="45.9" height="6.2" fill="#007d00"/>
<rect x="276.7" y="799.5" width="45.9" height="12.1" fill="#006400"/>
<rect x="276.7" y="811.2" width="45.9" height="11.8" fill="#008200"/>
<rect x="276.7" y="822.6" width="45.9" height="6.0" fill="#5f0000"/>
<rect x="276.7" y="828.2" width="45.9" height="7.0" fill="#aa0000"/>
<rect x="276.7" y="834.7" width="45.9" height="6.2" fill="#910000"/>
<rect x="276.7" y="840.6" width="45.9" height="6.2" fill="#6e0000"/>
<rect x="276.7" y="846.4" width="45.9" height="7.0" fill="#870000"/>
<rect x="276.7" y="853.0" width="45.9" height="12.1" fill="#690000"/>
<rect x="276.7" y="864.7" width="45.9" height="6.2" fill="#2d0000"/>
<rect x="276.7" y="870.5" width="45.9" height="12.1" fill="#6e0000"/>
<rect x="276.7" y="882.2" width="45.9" height="12.1" fill="#9b0000"/>
<rect x="276.7" y="893.9" width="45.9" height="6.2" fill="#af0000"/>
<rect x="276.7" y="899.8" width="45.9" height="6.2" fill="#730000"/>
<rect x="276.7" y="905.6" width="45.9" height="17.9" fill="#870000"/>
<rect x="276.7" y="923.2" width="45.9" height="25.2" fill="#9b0000"/>
<rect x="276.7" y="948.0" width="45.9" height="6.2" fill="#640000"/>
<rect x="276.7" y="953.8" width="45.9" height="6.2" fill="#820000"/>
<rect x="276.7" y="959.7" width="45.9" height="6.2" fill="#5f0000"/>
<rect x="276.7" y="965.5" width="45.9" height="6.2" fill="#aa0000"/>
<rect x="276.7" y="971.4" width="45.9" height="12.1" fill="#8c0000"/>
<rect x="276.7" y="983.1" width="45.9" height="6.2" fill="#730000"/>
<rect x="276.7" y="988.9" width="45.9" height="6.2" fill="#960000"/>
<rect x="276.7" y="994.8" width="45.9" height="17.9" fill="#820000"/>
<rect x="276.7" y="1012.3" width="45.9" height="1.7" fill="#960000"/>
<rect x="276.7" y="1013.7" width="45.9" height="12.1" fill="#870000"/>
<rect x="276.7" y="1025.3" width="45.9" height="12.1" fill="#a00000"/>
<rect x="276.7" y="1037.0" width="45.9" height="12.1" fill="#910000"/>
<rect x="276.7" y="1048.7" width="45.9" height="5.5" fill="#a50000"/>
<rect x="276.7" y="1053.8" width="45.9" height="7.0" fill="#870000"/>
<rect x="276.7" y="1060.4" width="45.9" height="6.2" fill="#640000"/>
<rect x="276.7" y="1066.3" width="45.9" height="7.0" fill="#be0000"/>
<rect x="276.7" y="1072.8" width="45.9" height="12.1" fill="#3c0000"/>
<rect x="276.7" y="1084.5" width="45.9" height="12.1" fill="#5f0000"/>
<rect x="276.7" y="1096.2" width="45.9" height="18.7" fill="#7d0000"/>
<rect x="276.7" y="1114.5" width="45.9" height="23.8" fill="#8c0000"/>
<rect x="276.7" y="1137.9" width="45.9" height="24.5" fill="#690000"/>
<rect x="276.7" y="1162.0" width="45.9" height="35.5" fill="#5a0000"/>
<rect x="276.7" y="1197.1" width="45.9" height="6.2" fill="#190000"/>
<rect x="276.7" y="1202.9" width="45.9" height="12.1" fill="#460000"/>
<rect x="276.7" y="1214.6" width="45.9" height="13.9" fill="#730000"/>
<rect x="276.7" y="1228.2" width="45.9" height="23.8" fill="#550000"/>
<rect x="276.7" y="1251.5" width="45.9" height="6.2" fill="#6e0000"/>
<rect x="276.7" y="1257.4" width="45.9" height="12.1" fill="#7d0000"/>
<rect x="276.7" y="1269.1" width="45.9" height="6.2" fill="#4b0000"/>
<rect x="276.7" y="1274.9" width="45.9" height="6.2" fill="#730000"/>
<rect x="276.7" y="1280.8" width="45.9" height="6.2" fill="#640000"/>
<rect x="276.7" y="1286.6" width="45.9" height="12.8" fill="#8c0000"/>
<rect x="276.7" y="1299.0" width="45.9" height="6.2" fill="#730000"/>
<rect x="276.7" y="1304.9" width="45.9" height="6.2" fill="#c80000"/>
<rect x="276.7" y="1310.7" width="45.9" height="6.2" fill="#5f0000"/>
<rect x="276.7" y="1316.6" width="45.9" height="6.2" fill="#370000"/>
<rect x="276.7" y="1322.4" width="45.9" height="7.0" fill="#5f0000"/>
<rect x="276.7" y="1329.0" width="45.9" height="17.9" fill="#870000"/>
<rect x="276.7" y="1346.5" width="45.9" height="19.4" fill="#820000"/>
<rect x="276.7" y="1365.5" width="45.9" height="6.2" fill="#a50000"/>
<rect x="276.7" y="1371.4" width="45.9" height="23.8" fill="#780000"/>
<rect x="276.7" y="1394.8" width="45.9" height="12.1" fill="#5f0000"/>
<rect x="276.7" y="1406.5" width="45.9" height="6.0" fill="#320000"/>
<rect x="322.3" y="233.2" width="45.9" height="17.6" fill="#001e00"/>
<rect x="322.3" y="250.5" width="45.9" height="6.2" fill="#0f0000"/>
<rect x="322.3" y="256.3" width="45.9" height="24.5" fill="#008700"/>
<rect x="322.3" y="280.4" width="45.9" height="18.7" fill="#006e00"/>
<rect x="322.3" y="298.7" width="45.9" height="47.2" fill="#003c00"/>
<rect x="322.3" y="345.5" width="45.9" height="7.0" fill="#000000"/>
<rect x="322.3" y="352.0" width="45.9" height="6.2" fill="#003700"/>
<rect x="322.3" y="357.9" width="45.9" height="6.2" fill="#001400"/>
<rect x="322.3" y="363.7" width="45.9" height="12.8" fill="#005500"/>
<rect x="322.3" y="376.2" width="45.9" height="12.1" fill="#00c800"/>
<rect x="322.3" y="387.8" width="45.9" height="12.1" fill="#00aa00"/>
<rect x="322.3" y="399.5" width="45.9" height="23.8" fill="#009100"/>
<rect x="322.3" y="422.9" width="45.9" height="7.4" fill="#008c00"/>
<rect x="322.3" y="430.0" width="45.9" height="5.5" fill="#008200"/>
<rect x="322.3" y="435.1" width="45.9" height="77.9" fill="#00dc00"/>
<rect x="322.3" y="512.6" width="45.9" height="7.0" fill="#004600"/>
<rect x="322.3" y="519.2" width="45.9" height="12.1" fill="#000a00"/>
<rect x="322.3" y="530.8" width="45.9" height="6.2" fill="#0f0000"/>
<rect x="322.3" y="536.7" width="45.9" height="12.1" fill="#001400"/>
<rect x="322.3" y="548.4" width="45.9" height="18.7" fill="#00a500"/>
<rect x="322.3" y="566.7" width="45.9" height="6.2" fill="#008c00"/>
<rect x="322.3" y="572.5" width="45.9" height="12.8" fill="#005500"/>
<rect x="322.3" y="584.9" width="45.9" height="12.1" fill="#006e00"/>
<rect x="322.3" y="596.6" width="45.9" height="6.2" fill="#007800"/>
<rect x="322.3" y="602.5" width="45.9" height="27.9" fill="#008c00"/>
<rect x="322.3" y="630.0" width="45.9" height="2.6" fill="#008c00"/>
<rect x="322.3" y="632.2" width="45.9" height="11.4" fill="#007800"/>
<rect x="322.3" y="643.2" width="45.9" height="13.6" fill="#007d00"/>
<rect x="322.3" y="656.3" width="45.9" height="23.8" fill="#00a500"/>
<rect x="322.3" y="679.7" width="45.9" height="18.7" fill="#009600"/>
<rect x="322.3" y="698.0" width="45.9" height="6.2" fill="#007300"/>
<rect x="322.3" y="703.8" width="45.9" height="12.1" fill="#003700"/>
<rect x="322.3" y="715.5" width="45.9" height="6.2" fill="#005f00"/>
<rect x="322.3" y="721.3" width="45.9" height="18.7" fill="#007d00"/>
<rect x="322.3" y="739.6" width="45.9" height="6.2" fill="#001900"/>
<rect x="322.3" y="745.5" width="45.9" height="12.1" fill="#003200"/>
<rect x="322.3" y="757.2" width="45.9" height="12.8" fill="#005000"/>
<rect x="322.3" y="769.6" width="45.9" height="7.0" fill="#002300"/>
<rect x="322.3" y="776.2" width="45.9" height="16.5" fill="#004600"/>
<rect x="322.3" y="792.2" width="45.9" height="6.2" fill="#006e00"/>
<rect x="322.3" y="798.1" width="45.9" height="7.7" fill="#009600"/>
<rect x="322.3" y="805.4" width="45.9" height="17.6" fill="#008c00"/>
<rect x="322.3" y="822.6" width="45.9" height="6.7" fill="#960000"/>
<rect x="322.3" y="828.9" width="45.9" height="12.1" fill="#730000"/>
<rect x="322.3" y="840.6" width="45.9" height="6.2" fill="#910000"/>
<rect x="322.3" y="846.4" width="45.9" height="12.8" fill="#640000"/>
<rect x="322.3" y="858.8" width="45.9" height="12.1" fill="#780000"/>
<rect x="322.3" y="870.5" width="45.9" height="12.1" fill="#550000"/>
<rect x="322.3" y="882.2" width="45.9" height="6.2" fill="#190000"/>
<rect x="322.3" y="888.1" width="45.9" height="12.1" fill="#410000"/>
<rect x="322.3" y="899.8" width="45.9" height="42.8" fill="#7d0000"/>
<rect x="322.3" y="942.2" width="45.9" height="17.9" fill="#4b0000"/>
<rect x="322.3" y="959.7" width="45.9" height="6.2" fill="#730000"/>
<rect x="322.3" y="965.5" width="45.9" height="6.2" fill="#320000"/>
<rect x="322.3" y="971.4" width="45.9" height="6.2" fill="#780000"/>
<rect x="322.3" y="977.2" width="45.9" height="6.2" fill="#640000"/>
<rect x="322.3" y="983.1" width="45.9" height="6.2" fill="#780000"/>
<rect x="322.3" y="988.9" width="45.9" height="6.2" fill="#5f0000"/>
<rect x="322.3" y="994.8" width="45.9" height="12.1" fill="#820000"/>
<rect x="322.3" y="1006.5" width="45.9" height="6.2" fill="#640000"/>
<rect x="322.3" y="1012.3" width="45.9" height="1.7" fill="#730000"/>
<rect x="322.3" y="1013.7" width="45.9" height="6.2" fill="#1e0000"/>
<rect x="322.3" y="1019.5" width="45.9" height="12.1" fill="#370000"/>
<rect x="322.3" y="1031.2" width="45.9" height="6.2" fill="#500000"/>
<rect x="322.3" y="1037.0" width="45.9" height="17.9" fill="#820000"/>
<rect x="322.3" y="1054.6" width="45.9" height="12.8" fill="#b40000"/>
<rect x="322.3" y="1067.0" width="45.9" height="12.1" fill="#960000"/>
<rect x="322.3" y="1078.7" width="45.9" height="17.9" fill="#a50000"/>
<rect x="322.3" y="1096.2" width="45.9" height="18.7" fill="#910000"/>
<rect x="322.3" y="1114.5" width="45.9" height="6.2" fill="#640000"/>
<rect x="322.3" y="1120.3" width="45.9" height="12.1" fill="#4b0000"/>
<rect x="322.3" y="1132.0" width="45.9" height="6.2" fill="#6e0000"/>
<rect x="322.3" y="1137.9" width="45.9" height="30.4" fill="#690000"/>
<rect x="322.3" y="1167.8" width="45.9" height="12.1" fill="#780000"/>
<rect x="322.3" y="1179.5" width="45.9" height="17.9" fill="#910000"/>
<rect x="322.3" y="1197.1" width="45.9" height="6.2" fill="#a00000"/>
<rect x="322.3" y="1202.9" width="45.9" height="12.1" fill="#640000"/>
<rect x="322.3" y="1214.6" width="45.9" height="19.8" fill="#500000"/>
<rect x="322.3" y="1234.0" width="45.9" height="6.2" fill="#730000"/>
<rect x="322.3" y="1239.8" width="45.9" height="12.1" fill="#5a0000"/>
<rect x="322.3" y="1251.5" width="45.9" height="12.1" fill="#910000"/>
<rect x="322.3" y="1263.2" width="45.9" height="12.1" fill="#960000"/>
<rect x="322.3" y="1274.9" width="45.9" height="6.2" fill="#5a0000"/>
<rect x="322.3" y="1280.8" width="45.9" height="6.2" fill="#870000"/>
<rect x="322.3" y="1286.6" width="45.9" height="6.2" fill="#5a0000"/>
<rect x="322.3" y="1292.5" width="45.9" height="18.7" fill="#780000"/>
<rect x="322.3" y="1310.7" width="45.9" height="6.2" fill="#690000"/>
<rect x="322.3" y="1316.6" width="45.9" height="6.2" fill="#8c0000"/>
<rect x="322.3" y="1322.4" width="45.9" height="12.8" fill="#aa0000"/>
<rect x="322.3" y="1334.8" width="45.9" height="12.1" fill="#960000"/>
<rect x="322.3" y="1346.5" width="45.9" height="7.0" fill="#a50000"/>
<rect x="322.3" y="1353.1" width="45.9" height="12.8" fill="#910000"/>
<rect x="322.3" y="1365.5" width="45.9" height="12.1" fill="#870000"/>
<rect x="322.3" y="1377.2" width="45.9" height="12.1" fill="#9b0000"/>
<rect x="322.3" y="1388.9" width="45.9" height="12.1" fill="#7d0000"/>
<rect x="322.3" y="1400.6" width="45.9" height="6.2" fill="#410000"/>
<rect x="322.3" y="1406.5" width="45.9" height="6.0" fill="#9b0000"/>
<rect x="367.9" y="233.2" width="45.6" height="11.8" fill="#005500"/>
<rect x="367.9" y="244.6" width="45.6" height="12.1" fill="#003700"/>
<rect x="367.9" y="256.3" width="45.6" height="6.2" fill="#002800"/>
<rect x="367.9" y="262.2" width="45.6" height="12.1" fill="#008200"/>
<rect x="367.9" y="273.8" width="45.6" height="25.2" fill="#006900"/>
<rect x="367.9" y="298.7" width="45.6" height="17.9" fill="#009600"/>
<rect x="367.9" y="316.2" width="45.6" height="17.9" fill="#00af00"/>
<rect x="367.9" y="333.8" width="45.6" height="17.9" fill="#009100"/>
<rect x="367.9" y="351.3" width="45.6" height="13.6" fill="#005a00"/>
<rect x="367.9" y="364.5" width="45.6" height="17.9" fill="#003c00"/>
<rect x="367.9" y="382.0" width="45.6" height="6.2" fill="#000000"/>
<rect x="367.9" y="387.8" width="45.6" height="12.1" fill="#001900"/>
<rect x="367.9" y="399.5" width="45.6" height="6.2" fill="#003c00"/>
<rect x="367.9" y="405.4" width="45.6" height="12.1" fill="#005f00"/>
<rect x="367.9" y="417.1" width="45.6" height="6.2" fill="#004600"/>
<rect x="367.9" y="422.9" width="45.6" height="7.4" fill="#006400"/>
<rect x="367.9" y="430.0" width="45.6" height="5.5" fill="#007d00"/>
<rect x="367.9" y="435.1" width="45.6" height="12.1" fill="#001900"/>
<rect x="367.9" y="446.8" width="45.6" height="12.8" fill="#004b00"/>
<rect x="367.9" y="459.2" width="45.6" height="6.2" fill="#006400"/>
<rect x="367.9" y="465.1" width="45.6" height="23.8" fill="#005000"/>
<rect x="367.9" y="488.5" width="45.6" height="7.0" fill="#006e00"/>
<rect x="367.9" y="495.0" width="45.6" height="17.9" fill="#008c00"/>
<rect x="367.9" y="512.6" width="45.6" height="18.7" fill="#00cd00"/>
<rect x="367.9" y="530.8" width="45.6" height="6.2" fill="#00e100"/>
<rect x="367.9" y="536.7" width="45.6" height="12.1" fill="#00cd00"/>
<rect x="367.9" y="548.4" width="45.6" height="18.7" fill="#00aa00"/>
<rect x="367.9" y="566.7" width="45.6" height="30.4" fill="#00c800"/>
<rect x="367.9" y="596.6" width="45.6" height="17.9" fill="#008200"/>
<rect x="367.9" y="614.2" width="45.6" height="16.2" fill="#007300"/>
<rect x="367.9" y="630.0" width="45.6" height="2.6" fill="#006e00"/>
<rect x="367.9" y="632.2" width="45.6" height="11.4" fill="#00aa00"/>
<rect x="367.9" y="643.2" width="45.6" height="13.6" fill="#009b00"/>
<rect x="367.9" y="656.3" width="45.6" height="23.8" fill="#007d00"/>
<rect x="367.9" y="679.7" width="45.6" height="18.7" fill="#008c00"/>
<rect x="367.9" y="698.0" width="45.6" height="6.2" fill="#00d700"/>
<rect x="367.9" y="703.8" width="45.6" height="17.9" fill="#00f500"/>
<rect x="367.9" y="721.3" width="45.6" height="7.0" fill="#00be00"/>
<rect x="367.9" y="727.9" width="45.6" height="12.1" fill="#00cd00"/>
<rect x="367.9" y="739.6" width="45.6" height="53.0" fill="#00d700"/>
<rect x="367.9" y="792.2" width="45.6" height="12.1" fill="#007300"/>
<rect x="367.9" y="803.9" width="45.6" height="19.1" fill="#009600"/>
<rect x="367.9" y="822.6" width="45.6" height="6.7" fill="#640000"/>
<rect x="367.9" y="828.9" width="45.6" height="6.2" fill="#370000"/>
<rect x="367.9" y="834.7" width="45.6" height="12.1" fill="#7d0000"/>
<rect x="367.9" y="846.4" width="45.6" height="30.4" fill="#a50000"/>
<rect x="367.9" y="876.4" width="45.6" height="6.2" fill="#870000"/>
<rect x="367.9" y="882.2" width="45.6" height="12.1" fill="#aa0000"/>
<rect x="367.9" y="893.9" width="45.6" height="48.6" fill="#820000"/>
<rect x="367.9" y="942.2" width="45.6" height="6.2" fill="#9b0000"/>
<rect x="367.9" y="948.0" width="45.6" height="12.1" fill="#b40000"/>
<rect x="367.9" y="959.7" width="45.6" height="12.1" fill="#a50000"/>
<rect x="367.9" y="971.4" width="45.6" height="6.2" fill="#7d0000"/>
<rect x="367.9" y="977.2" width="45.6" height="35.5" fill="#910000"/>
<rect x="367.9" y="1012.3" width="45.6" height="1.7" fill="#8c0000"/>
<rect x="367.9" y="1013.7" width="45.6" height="12.1" fill="#a00000"/>
<rect x="367.9" y="1025.3" width="45.6" height="12.1" fill="#870000"/>
<rect x="367.9" y="1037.0" width="45.6" height="6.2" fill="#460000"/>
<rect x="367.9" y="1042.9" width="45.6" height="12.1" fill="#640000"/>
<rect x="367.9" y="1054.6" width="45.6" height="6.2" fill="#3c0000"/>
<rect x="367.9" y="1060.4" width="45.6" height="12.8" fill="#460000"/>
<rect x="367.9" y="1072.8" width="45.6" height="6.2" fill="#b40000"/>
<rect x="367.9" y="1078.7" width="45.6" height="23.8" fill="#910000"/>
<rect x="367.9" y="1102.1" width="45.6" height="12.8" fill="#6e0000"/>
<rect x="367.9" y="1114.5" width="45.6" height="17.9" fill="#5a0000"/>
<rect x="367.9" y="1132.0" width="45.6" height="6.2" fill="#280000"/>
<rect x="367.9" y="1137.9" width="45.6" height="17.9" fill="#460000"/>
<rect x="367.9" y="1155.4" width="45.6" height="24.5" fill="#5a0000"/>
<rect x="367.9" y="1179.5" width="45.6" height="17.9" fill="#4b0000"/>
<rect x="367.9" y="1197.1" width="45.6" height="17.9" fill="#8c0000"/>
<rect x="367.9" y="1214.6" width="45.6" height="25.6" fill="#7d0000"/>
<rect x="367.9" y="1239.8" width="45.6" height="6.2" fill="#960000"/>
<rect x="367.9" y="1245.7" width="45.6" height="6.2" fill="#780000"/>
<rect x="367.9" y="1251.5" width="45.6" height="17.9" fill="#3c0000"/>
<rect x="367.9" y="1269.1" width="45.6" height="6.2" fill="#690000"/>
<rect x="367.9" y="1274.9" width="45.6" height="30.4" fill="#870000"/>
<rect x="367.9" y="1304.9" width="45.6" height="6.2" fill="#140000"/>
<rect x="367.9" y="1310.7" width="45.6" height="12.1" fill="#af0000"/>
<rect x="367.9" y="1322.4" width="45.6" height="7.0" fill="#8c0000"/>
<rect x="367.9" y="1329.0" width="45.6" height="12.1" fill="#820000"/>
<rect x="367.9" y="1340.7" width="45.6" height="12.8" fill="#5f0000"/>
<rect x="367.9" y="1353.1" width="45.6" height="23.1" fill="#780000"/>
<rect x="367.9" y="1375.8" width="45.6" height="13.6" fill="#640000"/>
<rect x="367.9" y="1388.9" width="45.6" height="12.1" fill="#a00000"/>
<rect x="367.9" y="1400.6" width="45.6" height="6.2" fill="#d20000"/>
<rect x="367.9" y="1406.5" width="45.6" height="6.0" fill="#b90000"/>
</g>
<path d="M208.2 233.2L208.2 202.0M253.9 233.2L253.9 202.0M208.2 202.0L253.9 202.0M231.1 202.0L231.1 171.0M162.6 233.2L162.6 171.0M162.6 171.0L231.1 171.0M196.8 171.0L196.8 114.0M299.5 233.2L299.5 194.3M345.1 233.2L345.1 194.3M390.7 233.2L390.7 195.3M299.5 194.3L345.1 194.3M345.1 195.3L390.7 195.3M334.7 194.3L334.7 114.0M196.8 114.0L334.7 114.0" stroke="#5a5ab4" stroke-width="1.3" fill="none"/>
<path d="M424.5 114.3H420.8V232.3H424.5M420.8 172.3H424.5" stroke="#555" stroke-width="1.2" fill="none"/>
<text class="s" x="431.0" y="125.8" font-size="13.8" textLength="66.0" lengthAdjust="spacingAndGlyphs" fill="#222">27.587154</text>
<text class="s" x="431.0" y="177.0" font-size="13.8" textLength="66.0" lengthAdjust="spacingAndGlyphs" fill="#222">13.793577</text>
<text class="s" x="431.0" y="231.5" font-size="13.8" fill="#222">0.0</text>
<path d="M26 221.5V226.7H139V221.5M82.7 221.5V226.7" stroke="#333" stroke-width="1.2" fill="none"/>
<text class="s" x="37.0" y="214.5" font-size="13.8" textLength="69.5" lengthAdjust="spacingAndGlyphs" transform="rotate(-90 37.0 214.5)" fill="#222">4.5978584</text>
<text class="s" x="87.2" y="214.5" font-size="13.8" textLength="69.5" lengthAdjust="spacingAndGlyphs" transform="rotate(-90 87.2 214.5)" fill="#222">2.2989292</text>
<text class="s" x="138.0" y="214.5" font-size="13.8" transform="rotate(-90 138.0 214.5)" fill="#222">0.0</text>
<path d="M139.8 236.2H132.6V242.2H139.8M139.8 248.2H134.1V254.2H139.8M132.6 239.2H127.3V251.2H134.1M139.8 272.3H131.3V278.3H139.8M139.8 284.3H134.6V290.3H139.8M139.8 296.3H132.9V302.4H139.8M134.6 287.3H128.5V299.4H132.9M131.3 275.3H122.4V293.3H128.5M139.8 266.3H120.8V284.3H122.4M139.8 260.3H119.2V275.3H120.8M139.8 314.4H132.9V320.4H139.8M139.8 326.4H132.4V332.4H139.8M132.4 329.4H129.7V338.4H139.8M132.9 317.4H124.3V333.9H129.7M124.3 325.7H122.7V344.5H139.8M139.8 308.4H121.1V335.1H122.7M119.2 267.8H115.6V321.7H121.1M127.3 245.2H110.0V294.8H115.6M139.8 356.5H133.7V362.5H139.8M133.7 359.5H131.0V368.5H139.8M139.8 350.5H126.4V364.0H131.0M139.8 380.5H134.5V386.6H139.8M139.8 392.6H133.3V398.6H139.8M133.3 395.6H128.0V404.6H139.8M134.5 383.6H124.1V400.1H128.0M139.8 374.5H122.5V391.8H124.1M126.4 357.2H120.9V383.2H122.5M139.8 416.6H133.5V422.6H139.8M139.8 428.7H131.3V434.7H139.8M133.5 419.6H128.8V431.7H131.3M139.8 410.6H125.1V425.7H128.8M120.9 370.2H115.5V418.1H125.1M139.8 446.7H133.1V452.7H139.8M139.8 464.8H133.4V470.8H139.8M139.8 458.7H130.0V467.8H133.4M130.0 463.2H126.5V476.8H139.8M133.1 449.7H123.9V470.0H126.5M139.8 440.7H122.3V459.9H123.9M139.8 482.8H131.2V488.8H139.8M139.8 500.8H133.8V506.8H139.8M139.8 494.8H130.7V503.8H133.8M139.8 512.9H132.0V518.9H139.8M130.7 499.3H127.1V515.9H132.0M131.2 485.8H123.9V507.6H127.1M139.8 524.9H133.3V530.9H139.8M133.3 527.9H128.5V536.9H139.8M123.9 496.7H119.6V532.4H128.5M139.8 555.0H133.4V561.0H139.8M139.8 549.0H131.4V558.0H133.4M139.8 542.9H128.4V553.5H131.4M119.6 514.6H118.0V548.2H128.4M122.3 450.3H114.8V531.4H118.0M115.5 394.2H108.5V490.8H114.8M139.8 579.0H134.1V585.0H139.8M139.8 573.0H128.9V582.0H134.1M139.8 591.0H132.6V597.1H139.8M132.6 594.1H128.3V603.1H139.8M139.8 609.1H133.2V615.1H139.8M128.3 598.6H124.9V612.1H133.2M128.9 577.5H122.7V605.3H124.9M139.8 627.1H131.4V633.1H139.8M131.4 630.1H129.6V639.2H139.8M139.8 645.2H131.3V651.2H139.8M129.6 634.7H125.2V648.2H131.3M139.8 669.2H133.3V675.2H139.8M139.8 663.2H131.2V672.2H133.3M131.2 667.7H125.9V681.3H139.8M139.8 693.3H134.1V699.3H139.8M139.8 687.3H131.2V696.3H134.1M125.9 674.5H124.3V691.8H131.2M139.8 657.2H121.8V683.1H124.3M125.2 641.4H117.1V670.2H121.8M139.8 621.1H115.5V655.8H117.1M122.7 591.4H113.9V638.5H115.5M139.8 567.0H112.3V614.9H113.9M139.8 717.3H133.4V723.4H139.8M139.8 711.3H129.8V720.4H133.4M139.8 705.3H128.2V715.8H129.8M139.8 729.4H134.6V735.4H139.8M134.6 732.4H128.1V741.4H139.8M128.2 710.6H122.5V736.9H128.1M139.8 747.4H133.6V753.4H139.8M139.8 759.5H131.2V765.5H139.8M133.6 750.4H126.5V762.5H131.2M122.5 723.7H117.5V756.4H126.5M139.8 777.5H133.0V783.5H139.8M133.0 780.5H131.1V789.5H139.8M139.8 795.5H134.4V801.5H139.8M131.1 785.0H124.1V798.5H134.4M139.8 807.6H134.6V813.6H139.8M134.6 810.6H128.1V819.6H139.8M124.1 791.8H120.9V815.1H128.1M139.8 771.5H119.3V803.4H120.9M117.5 740.1H115.6V787.5H119.3M112.3 591.0H107.5V763.8H115.6M108.5 442.5H99.5V677.4H107.5M110.0 273.0H97.0V557.0H99.5M139.8 825.6H134.4V831.6H139.8M139.8 843.7H131.2V849.7H139.8M139.8 837.6H129.2V846.7H131.2M134.4 828.6H114.0V842.1H129.2M139.8 861.7H132.9V867.7H139.8M139.8 855.7H129.6V864.7H132.9M139.8 873.7H133.0V879.7H139.8M133.0 876.7H129.3V885.8H139.8M129.6 860.2H122.9V881.2H129.3M139.8 903.8H132.1V909.8H139.8M139.8 897.8H129.6V906.8H132.1M139.8 891.8H128.0V902.3H129.6M139.8 915.8H133.2V921.8H139.8M133.2 918.8H129.1V927.8H139.8M128.0 897.0H121.4V923.3H129.1M121.4 910.2H119.8V933.9H139.8M122.9 870.7H116.4V922.0H119.8M139.8 945.9H131.9V951.9H139.8M139.8 939.9H129.2V948.9H131.9M139.8 957.9H133.9V963.9H139.8M139.8 970.0H131.5V976.0H139.8M133.9 960.9H128.4V973.0H131.5M129.2 944.4H122.2V966.9H128.4M116.4 896.4H112.0V955.7H122.2M114.0 835.4H95.0V926.0H112.0M139.8 988.0H132.2V994.0H139.8M132.2 991.0H129.1V1000.0H139.8M129.1 995.5H127.5V1006.0H139.8M139.8 1012.0H132.3V1018.1H139.8M139.8 1024.1H133.6V1030.1H139.8M133.6 1027.1H129.4V1036.1H139.8M132.3 1015.1H125.2V1031.6H129.4M139.8 1048.1H132.0V1054.2H139.8M132.0 1051.1H130.4V1060.2H139.8M139.8 1042.1H128.6V1055.7H130.4M125.2 1023.3H121.4V1048.9H128.6M127.5 1000.8H117.9V1036.1H121.4M139.8 982.0H115.5V1018.4H117.9M139.8 1072.2H132.3V1078.2H139.8M132.3 1075.2H128.1V1084.2H139.8M139.8 1066.2H126.5V1079.7H128.1M139.8 1096.2H133.8V1102.3H139.8M139.8 1090.2H128.5V1099.3H133.8M126.5 1072.9H121.8V1094.7H128.5M115.5 1000.2H113.9V1083.8H121.8M139.8 1114.3H132.5V1120.3H139.8M132.5 1117.3H129.8V1126.3H139.8M129.8 1121.8H127.7V1132.3H139.8M139.8 1144.4H132.7V1150.4H139.8M139.8 1138.3H130.1V1147.4H132.7M127.7 1127.1H123.8V1142.9H130.1M139.8 1156.4H132.4V1162.4H139.8M132.4 1159.4H129.8V1168.4H139.8M123.8 1135.0H121.1V1163.9H129.8M139.8 1180.5H132.8V1186.5H139.8M139.8 1174.4H128.0V1183.5H132.8M128.0 1178.9H126.0V1192.5H139.8M139.8 1198.5H131.7V1204.5H139.8M139.8 1210.5H133.5V1216.5H139.8M131.7 1201.5H125.9V1213.5H133.5M126.0 1185.7H121.0V1207.5H125.9M121.0 1196.6H119.4V1222.5H139.8M121.1 1149.4H113.2V1209.6H119.4M139.8 1108.3H111.6V1179.5H113.2M139.8 1252.6H133.0V1258.6H139.8M133.0 1255.6H128.1V1264.7H139.8M139.8 1246.6H126.5V1260.1H128.1M126.5 1253.4H124.9V1270.7H139.8M139.8 1240.6H123.0V1262.0H124.9M139.8 1234.6H121.4V1251.3H123.0M139.8 1276.7H132.9V1282.7H139.8M139.8 1288.7H132.7V1294.7H139.8M132.7 1291.7H128.5V1300.7H139.8M132.9 1279.7H126.5V1296.2H128.5M121.4 1242.9H118.5V1288.0H126.5M139.8 1228.6H116.9V1265.4H118.5M111.6 1143.9H110.0V1247.0H116.9M113.9 1042.0H111.0V1195.5H110.0M139.8 1312.8H134.0V1318.8H139.8M134.0 1315.8H129.4V1324.8H139.8M139.8 1336.8H134.5V1342.8H139.8M139.8 1330.8H129.5V1339.8H134.5M139.8 1348.9H131.5V1354.9H139.8M129.5 1335.3H125.2V1351.9H131.5M129.4 1320.3H123.0V1343.6H125.2M139.8 1366.9H132.3V1372.9H139.8M139.8 1360.9H129.7V1369.9H132.3M123.0 1331.9H117.9V1365.4H129.7M139.8 1384.9H133.0V1391.0H139.8M133.0 1387.9H130.6V1397.0H139.8M139.8 1403.0H133.5V1409.0H139.8M130.6 1392.5H124.1V1406.0H133.5M139.8 1378.9H122.5V1399.2H124.1M117.9 1348.7H116.3V1389.1H122.5M139.8 1306.8H103.0V1368.9H116.3M111.0 1118.7H97.3V1337.8H103.0M95.0 867.0H91.0V1221.0H97.3M97.0 415.0H26V1045.0H91.0" stroke="#2c2c9e" stroke-width="1.15" fill="none"/>
<path d="M821.8 132.5V327.0" stroke="#d9d9d9" stroke-width="1.2"/>
<path d="M928.5 132.5V327.0" stroke="#d9d9d9" stroke-width="1.2"/>
<path d="M1035.2 132.5V327.0" stroke="#d9d9d9" stroke-width="1.2"/>
<path d="M1141.9 132.5V327.0" stroke="#d9d9d9" stroke-width="1.2"/>
<path d="M1248.6 132.5V327.0" stroke="#d9d9d9" stroke-width="1.2"/>
<rect x="821.8" y="136.4" width="160.2" height="30.8" fill="#00b050"/>
<text class="s" x="795.0" y="160.4" font-size="24.8" text-anchor="end" font-weight="bold" textLength="137.0" lengthAdjust="spacingAndGlyphs">Spinal cord</text>
<rect x="821.8" y="175.2" width="160.2" height="30.7" fill="#00b050"/>
<text class="s" x="795.0" y="199.2" font-size="24.8" text-anchor="end" font-weight="bold" textLength="75.5" lengthAdjust="spacingAndGlyphs">Retina</text>
<rect x="821.8" y="214.4" width="182.0" height="30.8" fill="#00b050"/>
<text class="s" x="795.0" y="238.4" font-size="24.8" text-anchor="end" font-weight="bold" textLength="66.5" lengthAdjust="spacingAndGlyphs">Heart</text>
<rect x="821.8" y="254.3" width="294.0" height="30.6" fill="#00b050"/>
<text class="s" x="795.0" y="278.2" font-size="24.8" text-anchor="end" font-weight="bold" textLength="167.4" lengthAdjust="spacingAndGlyphs">Hippocampus</text>
<rect x="821.8" y="293.6" width="415.8" height="31.0" fill="#00b050"/>
<text class="s" x="795.0" y="317.7" font-size="24.8" text-anchor="end" font-weight="bold" textLength="61.6" lengthAdjust="spacingAndGlyphs">Brain</text>
<text class="s" x="821.8" y="372.2" font-size="23.0" text-anchor="middle" font-weight="bold">0</text>
<text class="s" x="928.5" y="372.2" font-size="23.0" text-anchor="middle" font-weight="bold">1</text>
<text class="s" x="1035.2" y="372.2" font-size="23.0" text-anchor="middle" font-weight="bold">2</text>
<text class="s" x="1141.9" y="372.2" font-size="23.0" text-anchor="middle" font-weight="bold">3</text>
<text class="s" x="1248.6" y="372.2" font-size="23.0" text-anchor="middle" font-weight="bold">4</text>
<text class="s" x="945.7" y="101.7" font-size="29.5" text-anchor="middle" font-weight="bold" textLength="257.0" lengthAdjust="spacingAndGlyphs">Tissue expression</text>
<text class="s" x="1035.8" y="410.0" font-size="18.5" text-anchor="middle" font-weight="bold" textLength="147.0" lengthAdjust="spacingAndGlyphs">-log10(P-value)</text>
<path d="M951.7 553.0V855.5" stroke="#d9d9d9" stroke-width="1.2"/>
<path d="M1032.1 553.0V855.5" stroke="#d9d9d9" stroke-width="1.2"/>
<path d="M1112.5 553.0V855.5" stroke="#d9d9d9" stroke-width="1.2"/>
<path d="M1193.0 553.0V855.5" stroke="#d9d9d9" stroke-width="1.2"/>
<path d="M1273.4 553.0V855.5" stroke="#d9d9d9" stroke-width="1.2"/>
<path d="M1353.8 553.0V855.5" stroke="#d9d9d9" stroke-width="1.2"/>
<rect x="951.7" y="556.9" width="223.8" height="22.3" fill="#ff0000"/>
<text class="s" x="931.5" y="573.8" font-size="17.6" text-anchor="end" font-weight="bold" textLength="266.1" lengthAdjust="spacingAndGlyphs">Ion transmembrane transport</text>
<rect x="951.7" y="586.8" width="225.0" height="23.1" fill="#ff0000"/>
<text class="s" x="931.5" y="604.1" font-size="17.6" text-anchor="end" font-weight="bold" textLength="302.3" lengthAdjust="spacingAndGlyphs">Synaptic transmission, cholinergic</text>
<rect x="951.7" y="617.0" width="227.1" height="23.2" fill="#ff0000"/>
<text class="s" x="931.5" y="634.4" font-size="17.6" text-anchor="end" font-weight="bold" textLength="173.2" lengthAdjust="spacingAndGlyphs">T cell costimulation</text>
<rect x="951.7" y="647.3" width="230.5" height="23.1" fill="#ff0000"/>
<text class="s" x="931.5" y="664.6" font-size="17.6" text-anchor="end" font-weight="bold" textLength="97.5" lengthAdjust="spacingAndGlyphs">Proteolysis</text>
<rect x="951.7" y="678.0" width="237.6" height="22.3" fill="#ff0000"/>
<text class="s" x="931.5" y="694.9" font-size="17.6" text-anchor="end" font-weight="bold" textLength="273.7" lengthAdjust="spacingAndGlyphs">Phospholipid catabolic process</text>
<rect x="951.7" y="707.5" width="267.1" height="23.1" fill="#ff0000"/>
<text class="s" x="931.5" y="724.8" font-size="17.6" text-anchor="end" font-weight="bold" textLength="116.8" lengthAdjust="spacingAndGlyphs">Ion transport</text>
<rect x="951.7" y="738.2" width="321.3" height="23.1" fill="#ff0000"/>
<text class="s" x="931.5" y="755.5" font-size="17.6" text-anchor="end" font-weight="bold" textLength="290.5" lengthAdjust="spacingAndGlyphs">Extracellular matrix organization</text>
<rect x="951.7" y="768.4" width="307.0" height="22.3" fill="#ff0000"/>
<text class="s" x="931.5" y="785.3" font-size="17.6" text-anchor="end" font-weight="bold" textLength="118.5" lengthAdjust="spacingAndGlyphs">Cell adhesion</text>
<rect x="951.7" y="798.3" width="336.5" height="23.1" fill="#ff0000"/>
<text class="s" x="931.5" y="815.6" font-size="17.6" text-anchor="end" font-weight="bold" textLength="316.2" lengthAdjust="spacingAndGlyphs">Cytosolic calcium ion concentration</text>
<rect x="951.7" y="829.0" width="396.6" height="23.1" fill="#ff0000"/>
<text class="s" x="931.5" y="846.3" font-size="17.6" text-anchor="end" font-weight="bold" textLength="265.7" lengthAdjust="spacingAndGlyphs">Nervous system development</text>
<text class="s" x="951.7" y="891.0" font-size="18.4" text-anchor="middle" font-weight="bold">0</text>
<text class="s" x="1032.1" y="891.0" font-size="18.4" text-anchor="middle" font-weight="bold">1</text>
<text class="s" x="1112.5" y="891.0" font-size="18.4" text-anchor="middle" font-weight="bold">2</text>
<text class="s" x="1193.0" y="891.0" font-size="18.4" text-anchor="middle" font-weight="bold">3</text>
<text class="s" x="1273.4" y="891.0" font-size="18.4" text-anchor="middle" font-weight="bold">4</text>
<text class="s" x="1353.8" y="891.0" font-size="18.4" text-anchor="middle" font-weight="bold">5</text>
<text class="s" x="991.3" y="524.0" font-size="28.0" text-anchor="middle" font-weight="bold" textLength="245.5" lengthAdjust="spacingAndGlyphs">Biological process</text>
<text class="s" x="1152.7" y="922.3" font-size="18.0" text-anchor="middle" font-weight="bold" textLength="143.5" lengthAdjust="spacingAndGlyphs">-log10(P-value)</text>
<path d="M990.8 1078.0V1387.0" stroke="#d9d9d9" stroke-width="1.2"/>
<path d="M1036.3 1078.0V1387.0" stroke="#d9d9d9" stroke-width="1.2"/>
<path d="M1081.8 1078.0V1387.0" stroke="#d9d9d9" stroke-width="1.2"/>
<path d="M1127.2 1078.0V1387.0" stroke="#d9d9d9" stroke-width="1.2"/>
<path d="M1172.7 1078.0V1387.0" stroke="#d9d9d9" stroke-width="1.2"/>
<path d="M1218.2 1078.0V1387.0" stroke="#d9d9d9" stroke-width="1.2"/>
<path d="M1263.7 1078.0V1387.0" stroke="#d9d9d9" stroke-width="1.2"/>
<path d="M1309.2 1078.0V1387.0" stroke="#d9d9d9" stroke-width="1.2"/>
<path d="M1354.6 1078.0V1387.0" stroke="#d9d9d9" stroke-width="1.2"/>
<rect x="990.8" y="1081.9" width="148.9" height="26.1" fill="#2e75b6"/>
<text class="s" x="969.4" y="1101.2" font-size="18.3" text-anchor="end" font-weight="bold" textLength="286.8" lengthAdjust="spacingAndGlyphs">Staphylococcus aureus infection</text>
<rect x="990.8" y="1116.0" width="172.5" height="26.1" fill="#2e75b6"/>
<text class="s" x="969.4" y="1135.2" font-size="18.3" text-anchor="end" font-weight="bold" textLength="203.1" lengthAdjust="spacingAndGlyphs">Glutamatergic synapse</text>
<rect x="990.8" y="1151.3" width="191.4" height="25.3" fill="#2e75b6"/>
<text class="s" x="969.4" y="1170.1" font-size="18.3" text-anchor="end" font-weight="bold" textLength="67.7" lengthAdjust="spacingAndGlyphs">Asthma</text>
<rect x="990.8" y="1185.4" width="192.6" height="26.1" fill="#2e75b6"/>
<text class="s" x="969.4" y="1204.7" font-size="18.3" text-anchor="end" font-weight="bold" textLength="163.2" lengthAdjust="spacingAndGlyphs">Nicotine addiction</text>
<rect x="990.8" y="1219.5" width="196.0" height="26.0" fill="#2e75b6"/>
<text class="s" x="969.4" y="1238.7" font-size="18.3" text-anchor="end" font-weight="bold" textLength="236.8" lengthAdjust="spacingAndGlyphs">Calcium signaling pathway</text>
<rect x="990.8" y="1254.8" width="197.3" height="24.8" fill="#2e75b6"/>
<text class="s" x="969.4" y="1273.4" font-size="18.3" text-anchor="end" font-weight="bold" textLength="236.8" lengthAdjust="spacingAndGlyphs">Hematopoietic cell lineage</text>
<rect x="990.8" y="1288.8" width="236.0" height="25.3" fill="#2e75b6"/>
<text class="s" x="969.4" y="1307.6" font-size="18.3" text-anchor="end" font-weight="bold" textLength="190.1" lengthAdjust="spacingAndGlyphs">Serotonergic synapse</text>
<rect x="990.8" y="1322.9" width="260.8" height="26.1" fill="#2e75b6"/>
<text class="s" x="969.4" y="1342.2" font-size="18.3" text-anchor="end" font-weight="bold" textLength="214.0" lengthAdjust="spacingAndGlyphs">Cell adhesion molecules</text>
<rect x="990.8" y="1357.0" width="364.2" height="26.0" fill="#2e75b6"/>
<text class="s" x="969.4" y="1376.2" font-size="18.3" text-anchor="end" font-weight="bold" textLength="354.1" lengthAdjust="spacingAndGlyphs">Neuroactive ligand-receptor interaction</text>
<text class="s" x="990.8" y="1416.8" font-size="16.6" text-anchor="middle" font-weight="bold">0</text>
<text class="s" x="1036.3" y="1416.8" font-size="16.6" text-anchor="middle" font-weight="bold">1</text>
<text class="s" x="1081.8" y="1416.8" font-size="16.6" text-anchor="middle" font-weight="bold">2</text>
<text class="s" x="1127.2" y="1416.8" font-size="16.6" text-anchor="middle" font-weight="bold">3</text>
<text class="s" x="1172.7" y="1416.8" font-size="16.6" text-anchor="middle" font-weight="bold">4</text>
<text class="s" x="1218.2" y="1416.8" font-size="16.6" text-anchor="middle" font-weight="bold">5</text>
<text class="s" x="1263.7" y="1416.8" font-size="16.6" text-anchor="middle" font-weight="bold">6</text>
<text class="s" x="1309.2" y="1416.8" font-size="16.6" text-anchor="middle" font-weight="bold">7</text>
<text class="s" x="1354.6" y="1416.8" font-size="16.6" text-anchor="middle" font-weight="bold">8</text>
<text class="s" x="991.3" y="1048.3" font-size="27.0" text-anchor="middle" font-weight="bold" textLength="200.0" lengthAdjust="spacingAndGlyphs">KEGG pathway</text>
<text class="s" x="1212.0" y="1453.8" font-size="18.3" text-anchor="middle" font-weight="bold" textLength="143.5" lengthAdjust="spacingAndGlyphs">-log10(P-value)</text>
<rect x="1528.0" y="16" width="257.4" height="31.5" fill="url(#g)"/>
<text class="m" x="1528.0" y="100.0" font-size="36.0" textLength="68.0" lengthAdjust="spacingAndGlyphs">-2.0</text>
<text class="m" x="1632.0" y="100.0" font-size="36.0" textLength="50.0" lengthAdjust="spacingAndGlyphs">0.0</text>
<text class="m" x="1735.0" y="100.0" font-size="36.0" textLength="50.0" lengthAdjust="spacingAndGlyphs">2.0</text>
<text class="m" x="1560.5" y="177.0" font-size="35.3" textLength="48.6" lengthAdjust="spacingAndGlyphs" transform="rotate(-90 1560.5 177.0)">WT1</text>
<text class="m" x="1603.3" y="177.0" font-size="35.3" textLength="48.6" lengthAdjust="spacingAndGlyphs" transform="rotate(-90 1603.3 177.0)">WT2</text>
<text class="m" x="1646.2" y="177.0" font-size="35.3" textLength="48.6" lengthAdjust="spacingAndGlyphs" transform="rotate(-90 1646.2 177.0)">WT3</text>
<text class="m" x="1689.2" y="177.0" font-size="35.3" textLength="64.8" lengthAdjust="spacingAndGlyphs" transform="rotate(-90 1689.2 177.0)">NPC1</text>
<text class="m" x="1732.1" y="177.0" font-size="35.3" textLength="64.8" lengthAdjust="spacingAndGlyphs" transform="rotate(-90 1732.1 177.0)">NPC2</text>
<text class="m" x="1775.0" y="177.0" font-size="35.3" textLength="64.8" lengthAdjust="spacingAndGlyphs" transform="rotate(-90 1775.0 177.0)">NPC3</text>
<g shape-rendering="crispEdges">
<rect x="1528.0" y="188.0" width="43.2" height="31.8" fill="#a00000"/>
<rect x="1570.9" y="188.0" width="43.2" height="31.8" fill="#4b0000"/>
<rect x="1613.8" y="188.0" width="43.2" height="31.8" fill="#870000"/>
<rect x="1656.7" y="188.0" width="43.2" height="31.8" fill="#009b00"/>
<rect x="1699.6" y="188.0" width="43.2" height="31.8" fill="#006400"/>
<rect x="1742.5" y="188.0" width="42.9" height="31.8" fill="#006e00"/>
<rect x="1528.0" y="219.4" width="43.2" height="31.8" fill="#780000"/>
<rect x="1570.9" y="219.4" width="43.2" height="31.8" fill="#8c0000"/>
<rect x="1613.8" y="219.4" width="43.2" height="31.8" fill="#820000"/>
<rect x="1656.7" y="219.4" width="43.2" height="31.8" fill="#007d00"/>
<rect x="1699.6" y="219.4" width="43.2" height="31.8" fill="#009100"/>
<rect x="1742.5" y="219.4" width="42.9" height="31.8" fill="#006900"/>
<rect x="1528.0" y="250.9" width="43.2" height="31.8" fill="#004100"/>
<rect x="1570.9" y="250.9" width="43.2" height="31.8" fill="#ff0000"/>
<rect x="1613.8" y="250.9" width="43.2" height="31.8" fill="#000000"/>
<rect x="1656.7" y="250.9" width="43.2" height="31.8" fill="#004100"/>
<rect x="1699.6" y="250.9" width="43.2" height="31.8" fill="#004100"/>
<rect x="1742.5" y="250.9" width="42.9" height="31.8" fill="#003c00"/>
<rect x="1528.0" y="282.3" width="43.2" height="31.8" fill="#000a00"/>
<rect x="1570.9" y="282.3" width="43.2" height="31.8" fill="#fa0000"/>
<rect x="1613.8" y="282.3" width="43.2" height="31.8" fill="#000000"/>
<rect x="1656.7" y="282.3" width="43.2" height="31.8" fill="#000f00"/>
<rect x="1699.6" y="282.3" width="43.2" height="31.8" fill="#001900"/>
<rect x="1742.5" y="282.3" width="42.9" height="31.8" fill="#00c800"/>
<rect x="1528.0" y="313.7" width="43.2" height="31.8" fill="#780000"/>
<rect x="1570.9" y="313.7" width="43.2" height="31.8" fill="#cd0000"/>
<rect x="1613.8" y="313.7" width="43.2" height="31.8" fill="#190000"/>
<rect x="1656.7" y="313.7" width="43.2" height="31.8" fill="#007800"/>
<rect x="1699.6" y="313.7" width="43.2" height="31.8" fill="#007800"/>
<rect x="1742.5" y="313.7" width="42.9" height="31.8" fill="#007d00"/>
<rect x="1528.0" y="345.2" width="43.2" height="31.8" fill="#410000"/>
<rect x="1570.9" y="345.2" width="43.2" height="31.8" fill="#cd0000"/>
<rect x="1613.8" y="345.2" width="43.2" height="31.8" fill="#5a0000"/>
<rect x="1656.7" y="345.2" width="43.2" height="31.8" fill="#008700"/>
<rect x="1699.6" y="345.2" width="43.2" height="31.8" fill="#006400"/>
<rect x="1742.5" y="345.2" width="42.9" height="31.8" fill="#008700"/>
<rect x="1528.0" y="376.6" width="43.2" height="31.8" fill="#640000"/>
<rect x="1570.9" y="376.6" width="43.2" height="31.8" fill="#be0000"/>
<rect x="1613.8" y="376.6" width="43.2" height="31.8" fill="#6e0000"/>
<rect x="1656.7" y="376.6" width="43.2" height="31.8" fill="#006400"/>
<rect x="1699.6" y="376.6" width="43.2" height="31.8" fill="#009600"/>
<rect x="1742.5" y="376.6" width="42.9" height="31.8" fill="#006e00"/>
<rect x="1528.0" y="408.0" width="43.2" height="31.8" fill="#320000"/>
<rect x="1570.9" y="408.0" width="43.2" height="31.8" fill="#cd0000"/>
<rect x="1613.8" y="408.0" width="43.2" height="31.8" fill="#5f0000"/>
<rect x="1656.7" y="408.0" width="43.2" height="31.8" fill="#006400"/>
<rect x="1699.6" y="408.0" width="43.2" height="31.8" fill="#002300"/>
<rect x="1742.5" y="408.0" width="42.9" height="31.8" fill="#00c300"/>
<rect x="1528.0" y="439.4" width="43.2" height="31.8" fill="#004b00"/>
<rect x="1570.9" y="439.4" width="43.2" height="31.8" fill="#ff0000"/>
<rect x="1613.8" y="439.4" width="43.2" height="31.8" fill="#005000"/>
<rect x="1656.7" y="439.4" width="43.2" height="31.8" fill="#280000"/>
<rect x="1699.6" y="439.4" width="43.2" height="31.8" fill="#004600"/>
<rect x="1742.5" y="439.4" width="42.9" height="31.8" fill="#004b00"/>
<rect x="1528.0" y="470.9" width="43.2" height="31.8" fill="#280000"/>
<rect x="1570.9" y="470.9" width="43.2" height="31.8" fill="#be0000"/>
<rect x="1613.8" y="470.9" width="43.2" height="31.8" fill="#460000"/>
<rect x="1656.7" y="470.9" width="43.2" height="31.8" fill="#000f00"/>
<rect x="1699.6" y="470.9" width="43.2" height="31.8" fill="#003700"/>
<rect x="1742.5" y="470.9" width="42.9" height="31.8" fill="#00eb00"/>
<rect x="1528.0" y="502.3" width="43.2" height="31.8" fill="#002d00"/>
<rect x="1570.9" y="502.3" width="43.2" height="31.8" fill="#f50000"/>
<rect x="1613.8" y="502.3" width="43.2" height="31.8" fill="#370000"/>
<rect x="1656.7" y="502.3" width="43.2" height="31.8" fill="#007d00"/>
<rect x="1699.6" y="502.3" width="43.2" height="31.8" fill="#007d00"/>
<rect x="1742.5" y="502.3" width="42.9" height="31.8" fill="#190000"/>
<rect x="1528.0" y="533.7" width="43.2" height="31.8" fill="#5f0000"/>
<rect x="1570.9" y="533.7" width="43.2" height="31.8" fill="#af0000"/>
<rect x="1613.8" y="533.7" width="43.2" height="31.8" fill="#5f0000"/>
<rect x="1656.7" y="533.7" width="43.2" height="31.8" fill="#008700"/>
<rect x="1699.6" y="533.7" width="43.2" height="31.8" fill="#005a00"/>
<rect x="1742.5" y="533.7" width="42.9" height="31.8" fill="#008700"/>
<rect x="1528.0" y="565.2" width="43.2" height="31.8" fill="#000000"/>
<rect x="1570.9" y="565.2" width="43.2" height="31.8" fill="#ff0000"/>
<rect x="1613.8" y="565.2" width="43.2" height="31.8" fill="#190000"/>
<rect x="1656.7" y="565.2" width="43.2" height="31.8" fill="#006900"/>
<rect x="1699.6" y="565.2" width="43.2" height="31.8" fill="#008200"/>
<rect x="1742.5" y="565.2" width="42.9" height="31.8" fill="#001400"/>
<rect x="1528.0" y="596.6" width="43.2" height="31.8" fill="#ff0000"/>
<rect x="1570.9" y="596.6" width="43.2" height="31.8" fill="#004600"/>
<rect x="1613.8" y="596.6" width="43.2" height="31.8" fill="#1e0000"/>
<rect x="1656.7" y="596.6" width="43.2" height="31.8" fill="#004600"/>
<rect x="1699.6" y="596.6" width="43.2" height="31.8" fill="#004600"/>
<rect x="1742.5" y="596.6" width="42.9" height="31.8" fill="#004100"/>
<rect x="1528.0" y="628.0" width="43.2" height="31.8" fill="#c80000"/>
<rect x="1570.9" y="628.0" width="43.2" height="31.8" fill="#006900"/>
<rect x="1613.8" y="628.0" width="43.2" height="31.8" fill="#870000"/>
<rect x="1656.7" y="628.0" width="43.2" height="31.8" fill="#000500"/>
<rect x="1699.6" y="628.0" width="43.2" height="31.8" fill="#006400"/>
<rect x="1742.5" y="628.0" width="42.9" height="31.8" fill="#006e00"/>
<rect x="1528.0" y="659.5" width="43.2" height="31.8" fill="#f50000"/>
<rect x="1570.9" y="659.5" width="43.2" height="31.8" fill="#006900"/>
<rect x="1613.8" y="659.5" width="43.2" height="31.8" fill="#370000"/>
<rect x="1656.7" y="659.5" width="43.2" height="31.8" fill="#006400"/>
<rect x="1699.6" y="659.5" width="43.2" height="31.8" fill="#0a0000"/>
<rect x="1742.5" y="659.5" width="42.9" height="31.8" fill="#006900"/>
<rect x="1528.0" y="690.9" width="43.2" height="31.8" fill="#780000"/>
<rect x="1570.9" y="690.9" width="43.2" height="31.8" fill="#7d0000"/>
<rect x="1613.8" y="690.9" width="43.2" height="31.8" fill="#6e0000"/>
<rect x="1656.7" y="690.9" width="43.2" height="31.8" fill="#00a000"/>
<rect x="1699.6" y="690.9" width="43.2" height="31.8" fill="#001400"/>
<rect x="1742.5" y="690.9" width="42.9" height="31.8" fill="#00af00"/>
<rect x="1528.0" y="722.3" width="43.2" height="31.8" fill="#2d0000"/>
<rect x="1570.9" y="722.3" width="43.2" height="31.8" fill="#af0000"/>
<rect x="1613.8" y="722.3" width="43.2" height="31.8" fill="#690000"/>
<rect x="1656.7" y="722.3" width="43.2" height="31.8" fill="#006400"/>
<rect x="1699.6" y="722.3" width="43.2" height="31.8" fill="#00e600"/>
<rect x="1742.5" y="722.3" width="42.9" height="31.8" fill="#140000"/>
<rect x="1528.0" y="753.8" width="43.2" height="31.8" fill="#3c0000"/>
<rect x="1570.9" y="753.8" width="43.2" height="31.8" fill="#780000"/>
<rect x="1613.8" y="753.8" width="43.2" height="31.8" fill="#be0000"/>
<rect x="1656.7" y="753.8" width="43.2" height="31.8" fill="#009600"/>
<rect x="1699.6" y="753.8" width="43.2" height="31.8" fill="#005500"/>
<rect x="1742.5" y="753.8" width="42.9" height="31.8" fill="#007d00"/>
<rect x="1528.0" y="785.2" width="43.2" height="31.8" fill="#c30000"/>
<rect x="1570.9" y="785.2" width="43.2" height="31.8" fill="#007300"/>
<rect x="1613.8" y="785.2" width="43.2" height="31.8" fill="#8c0000"/>
<rect x="1656.7" y="785.2" width="43.2" height="31.8" fill="#007800"/>
<rect x="1699.6" y="785.2" width="43.2" height="31.8" fill="#050000"/>
<rect x="1742.5" y="785.2" width="42.9" height="31.8" fill="#007300"/>
<rect x="1528.0" y="816.6" width="43.2" height="31.8" fill="#0f0000"/>
<rect x="1570.9" y="816.6" width="43.2" height="31.8" fill="#d70000"/>
<rect x="1613.8" y="816.6" width="43.2" height="31.8" fill="#550000"/>
<rect x="1656.7" y="816.6" width="43.2" height="31.8" fill="#00a500"/>
<rect x="1699.6" y="816.6" width="43.2" height="31.8" fill="#009600"/>
<rect x="1742.5" y="816.6" width="42.9" height="31.8" fill="#000000"/>
<rect x="1528.0" y="848.0" width="43.2" height="31.8" fill="#dc0000"/>
<rect x="1570.9" y="848.0" width="43.2" height="31.8" fill="#007300"/>
<rect x="1613.8" y="848.0" width="43.2" height="31.8" fill="#780000"/>
<rect x="1656.7" y="848.0" width="43.2" height="31.8" fill="#007300"/>
<rect x="1699.6" y="848.0" width="43.2" height="31.8" fill="#0f0000"/>
<rect x="1742.5" y="848.0" width="42.9" height="31.8" fill="#007800"/>
<rect x="1528.0" y="879.5" width="43.2" height="31.8" fill="#960000"/>
<rect x="1570.9" y="879.5" width="43.2" height="31.8" fill="#730000"/>
<rect x="1613.8" y="879.5" width="43.2" height="31.8" fill="#780000"/>
<rect x="1656.7" y="879.5" width="43.2" height="31.8" fill="#005000"/>
<rect x="1699.6" y="879.5" width="43.2" height="31.8" fill="#009100"/>
<rect x="1742.5" y="879.5" width="42.9" height="31.8" fill="#008c00"/>
<rect x="1528.0" y="910.9" width="43.2" height="31.8" fill="#550000"/>
<rect x="1570.9" y="910.9" width="43.2" height="31.8" fill="#cd0000"/>
<rect x="1613.8" y="910.9" width="43.2" height="31.8" fill="#320000"/>
<rect x="1656.7" y="910.9" width="43.2" height="31.8" fill="#001900"/>
<rect x="1699.6" y="910.9" width="43.2" height="31.8" fill="#00be00"/>
<rect x="1742.5" y="910.9" width="42.9" height="31.8" fill="#007800"/>
<rect x="1528.0" y="942.3" width="43.2" height="31.8" fill="#d70000"/>
<rect x="1570.9" y="942.3" width="43.2" height="31.8" fill="#005000"/>
<rect x="1613.8" y="942.3" width="43.2" height="31.8" fill="#910000"/>
<rect x="1656.7" y="942.3" width="43.2" height="31.8" fill="#005500"/>
<rect x="1699.6" y="942.3" width="43.2" height="31.8" fill="#005500"/>
<rect x="1742.5" y="942.3" width="42.9" height="31.8" fill="#005a00"/>
<rect x="1528.0" y="973.8" width="43.2" height="31.8" fill="#003700"/>
<rect x="1570.9" y="973.8" width="43.2" height="31.8" fill="#003200"/>
<rect x="1613.8" y="973.8" width="43.2" height="31.8" fill="#ff0000"/>
<rect x="1656.7" y="973.8" width="43.2" height="31.8" fill="#003700"/>
<rect x="1699.6" y="973.8" width="43.2" height="31.8" fill="#003200"/>
<rect x="1742.5" y="973.8" width="42.9" height="31.8" fill="#002d00"/>
<rect x="1528.0" y="1005.2" width="43.2" height="31.8" fill="#c30000"/>
<rect x="1570.9" y="1005.2" width="43.2" height="31.8" fill="#1e0000"/>
<rect x="1613.8" y="1005.2" width="43.2" height="31.8" fill="#730000"/>
<rect x="1656.7" y="1005.2" width="43.2" height="31.8" fill="#00a500"/>
<rect x="1699.6" y="1005.2" width="43.2" height="31.8" fill="#002800"/>
<rect x="1742.5" y="1005.2" width="42.9" height="31.8" fill="#007800"/>
<rect x="1528.0" y="1036.6" width="43.2" height="31.8" fill="#780000"/>
<rect x="1570.9" y="1036.6" width="43.2" height="31.8" fill="#8c0000"/>
<rect x="1613.8" y="1036.6" width="43.2" height="31.8" fill="#230000"/>
<rect x="1656.7" y="1036.6" width="43.2" height="31.8" fill="#2d0000"/>
<rect x="1699.6" y="1036.6" width="43.2" height="31.8" fill="#00a000"/>
<rect x="1742.5" y="1036.6" width="42.9" height="31.8" fill="#00af00"/>
<rect x="1528.0" y="1068.1" width="43.2" height="31.8" fill="#d20000"/>
<rect x="1570.9" y="1068.1" width="43.2" height="31.8" fill="#003c00"/>
<rect x="1613.8" y="1068.1" width="43.2" height="31.8" fill="#7d0000"/>
<rect x="1656.7" y="1068.1" width="43.2" height="31.8" fill="#003c00"/>
<rect x="1699.6" y="1068.1" width="43.2" height="31.8" fill="#00a500"/>
<rect x="1742.5" y="1068.1" width="42.9" height="31.8" fill="#002300"/>
<rect x="1528.0" y="1099.5" width="43.2" height="31.8" fill="#be0000"/>
<rect x="1570.9" y="1099.5" width="43.2" height="31.8" fill="#009b00"/>
<rect x="1613.8" y="1099.5" width="43.2" height="31.8" fill="#640000"/>
<rect x="1656.7" y="1099.5" width="43.2" height="31.8" fill="#3c0000"/>
<rect x="1699.6" y="1099.5" width="43.2" height="31.8" fill="#000f00"/>
<rect x="1742.5" y="1099.5" width="42.9" height="31.8" fill="#00a000"/>
<rect x="1528.0" y="1130.9" width="43.2" height="31.8" fill="#e10000"/>
<rect x="1570.9" y="1130.9" width="43.2" height="31.8" fill="#007300"/>
<rect x="1613.8" y="1130.9" width="43.2" height="31.8" fill="#640000"/>
<rect x="1656.7" y="1130.9" width="43.2" height="31.8" fill="#006e00"/>
<rect x="1699.6" y="1130.9" width="43.2" height="31.8" fill="#230000"/>
<rect x="1742.5" y="1130.9" width="42.9" height="31.8" fill="#007800"/>
<rect x="1528.0" y="1162.4" width="43.2" height="31.8" fill="#0a0000"/>
<rect x="1570.9" y="1162.4" width="43.2" height="31.8" fill="#910000"/>
<rect x="1613.8" y="1162.4" width="43.2" height="31.8" fill="#7d0000"/>
<rect x="1656.7" y="1162.4" width="43.2" height="31.8" fill="#2d0000"/>
<rect x="1699.6" y="1162.4" width="43.2" height="31.8" fill="#007800"/>
<rect x="1742.5" y="1162.4" width="42.9" height="31.8" fill="#00d200"/>
<rect x="1528.0" y="1193.8" width="43.2" height="31.8" fill="#6e0000"/>
<rect x="1570.9" y="1193.8" width="43.2" height="31.8" fill="#003700"/>
<rect x="1613.8" y="1193.8" width="43.2" height="31.8" fill="#e10000"/>
<rect x="1656.7" y="1193.8" width="43.2" height="31.8" fill="#002d00"/>
<rect x="1699.6" y="1193.8" width="43.2" height="31.8" fill="#005000"/>
<rect x="1742.5" y="1193.8" width="42.9" height="31.8" fill="#009600"/>
<rect x="1528.0" y="1225.2" width="43.2" height="31.8" fill="#5f0000"/>
<rect x="1570.9" y="1225.2" width="43.2" height="31.8" fill="#870000"/>
<rect x="1613.8" y="1225.2" width="43.2" height="31.8" fill="#690000"/>
<rect x="1656.7" y="1225.2" width="43.2" height="31.8" fill="#000f00"/>
<rect x="1699.6" y="1225.2" width="43.2" height="31.8" fill="#007d00"/>
<rect x="1742.5" y="1225.2" width="42.9" height="31.8" fill="#00c800"/>
<rect x="1528.0" y="1256.6" width="43.2" height="31.8" fill="#410000"/>
<rect x="1570.9" y="1256.6" width="43.2" height="31.8" fill="#730000"/>
<rect x="1613.8" y="1256.6" width="43.2" height="31.8" fill="#5f0000"/>
<rect x="1656.7" y="1256.6" width="43.2" height="31.8" fill="#00f000"/>
<rect x="1699.6" y="1256.6" width="43.2" height="31.8" fill="#410000"/>
<rect x="1742.5" y="1256.6" width="42.9" height="31.8" fill="#006400"/>
<rect x="1528.0" y="1288.1" width="43.2" height="31.8" fill="#d70000"/>
<rect x="1570.9" y="1288.1" width="43.2" height="31.8" fill="#009100"/>
<rect x="1613.8" y="1288.1" width="43.2" height="31.8" fill="#370000"/>
<rect x="1656.7" y="1288.1" width="43.2" height="31.8" fill="#008c00"/>
<rect x="1699.6" y="1288.1" width="43.2" height="31.8" fill="#370000"/>
<rect x="1742.5" y="1288.1" width="42.9" height="31.8" fill="#001400"/>
<rect x="1528.0" y="1319.5" width="43.2" height="31.8" fill="#a50000"/>
<rect x="1570.9" y="1319.5" width="43.2" height="31.8" fill="#000a00"/>
<rect x="1613.8" y="1319.5" width="43.2" height="31.8" fill="#5a0000"/>
<rect x="1656.7" y="1319.5" width="43.2" height="31.8" fill="#000f00"/>
<rect x="1699.6" y="1319.5" width="43.2" height="31.8" fill="#230000"/>
<rect x="1742.5" y="1319.5" width="42.9" height="31.8" fill="#00fa00"/>
<rect x="1528.0" y="1350.9" width="43.2" height="31.8" fill="#2d0000"/>
<rect x="1570.9" y="1350.9" width="43.2" height="31.8" fill="#00c800"/>
<rect x="1613.8" y="1350.9" width="43.2" height="31.8" fill="#a00000"/>
<rect x="1656.7" y="1350.9" width="43.2" height="31.8" fill="#230000"/>
<rect x="1699.6" y="1350.9" width="43.2" height="31.8" fill="#460000"/>
<rect x="1742.5" y="1350.9" width="42.9" height="31.8" fill="#009100"/>
<rect x="1528.0" y="1382.4" width="43.2" height="31.4" fill="#960000"/>
<rect x="1570.9" y="1382.4" width="43.2" height="31.4" fill="#00a000"/>
<rect x="1613.8" y="1382.4" width="43.2" height="31.4" fill="#960000"/>
<rect x="1656.7" y="1382.4" width="43.2" height="31.4" fill="#0a0000"/>
<rect x="1699.6" y="1382.4" width="43.2" height="31.4" fill="#00a000"/>
<rect x="1742.5" y="1382.4" width="42.9" height="31.4" fill="#000000"/>
</g>
<text class="m" x="1829.0" y="216.1" font-size="34.0" textLength="50.1" lengthAdjust="spacingAndGlyphs">TOX</text>
<text class="m" x="1829.0" y="247.5" font-size="34.0" textLength="66.8" lengthAdjust="spacingAndGlyphs">APOE</text>
<text class="m" x="1829.0" y="279.0" font-size="34.0" textLength="66.8" lengthAdjust="spacingAndGlyphs">WNT2</text>
<text class="m" x="1829.0" y="310.4" font-size="34.0" textLength="66.8" lengthAdjust="spacingAndGlyphs">MAP2</text>
<text class="m" x="1829.0" y="341.8" font-size="34.0" textLength="66.8" lengthAdjust="spacingAndGlyphs">CHL1</text>
<text class="m" x="1829.0" y="373.3" font-size="34.0" textLength="83.5" lengthAdjust="spacingAndGlyphs">CRMP1</text>
<text class="m" x="1829.0" y="404.7" font-size="34.0" textLength="116.9" lengthAdjust="spacingAndGlyphs">ALDH1A2</text>
<text class="m" x="1829.0" y="436.1" font-size="34.0" textLength="50.1" lengthAdjust="spacingAndGlyphs">NRL</text>
<text class="m" x="1829.0" y="467.6" font-size="34.0" textLength="83.5" lengthAdjust="spacingAndGlyphs">FSCN2</text>
<text class="m" x="1829.0" y="499.0" font-size="34.0" textLength="83.5" lengthAdjust="spacingAndGlyphs">CNTN1</text>
<text class="m" x="1829.0" y="530.4" font-size="34.0" textLength="66.8" lengthAdjust="spacingAndGlyphs">WNT1</text>
<text class="m" x="1829.0" y="561.9" font-size="34.0" textLength="116.9" lengthAdjust="spacingAndGlyphs">SLITRK5</text>
<text class="m" x="1829.0" y="593.3" font-size="34.0" textLength="33.4" lengthAdjust="spacingAndGlyphs">C3</text>
<text class="m" x="1829.0" y="624.7" font-size="34.0" textLength="83.5" lengthAdjust="spacingAndGlyphs">FEZF1</text>
<text class="m" x="1829.0" y="656.1" font-size="34.0" textLength="66.8" lengthAdjust="spacingAndGlyphs">GFAP</text>
<text class="m" x="1829.0" y="687.6" font-size="34.0" textLength="83.5" lengthAdjust="spacingAndGlyphs">SKOR2</text>
<text class="m" x="1829.0" y="719.0" font-size="34.0" textLength="66.8" lengthAdjust="spacingAndGlyphs">PAK3</text>
<text class="m" x="1829.0" y="750.4" font-size="34.0" textLength="66.8" lengthAdjust="spacingAndGlyphs">HELT</text>
<text class="m" x="1829.0" y="781.9" font-size="34.0" textLength="83.5" lengthAdjust="spacingAndGlyphs">OLIG1</text>
<text class="m" x="1829.0" y="813.3" font-size="34.0" textLength="83.5" lengthAdjust="spacingAndGlyphs">DSCAM</text>
<text class="m" x="1829.0" y="844.7" font-size="34.0" textLength="66.8" lengthAdjust="spacingAndGlyphs">CDH1</text>
<text class="m" x="1829.0" y="876.2" font-size="34.0" textLength="66.8" lengthAdjust="spacingAndGlyphs">HCN1</text>
<text class="m" x="1829.0" y="907.6" font-size="34.0" textLength="83.5" lengthAdjust="spacingAndGlyphs">GRID2</text>
<text class="m" x="1829.0" y="939.0" font-size="34.0" textLength="100.2" lengthAdjust="spacingAndGlyphs">NKX2-8</text>
<text class="m" x="1829.0" y="970.5" font-size="34.0" textLength="83.5" lengthAdjust="spacingAndGlyphs">CSF1R</text>
<text class="m" x="1829.0" y="1001.9" font-size="34.0" textLength="83.5" lengthAdjust="spacingAndGlyphs">SPTA1</text>
<text class="m" x="1829.0" y="1033.3" font-size="34.0" textLength="83.5" lengthAdjust="spacingAndGlyphs">USH2A</text>
<text class="m" x="1829.0" y="1064.7" font-size="34.0" textLength="66.8" lengthAdjust="spacingAndGlyphs">LHX3</text>
<text class="m" x="1829.0" y="1096.2" font-size="34.0" textLength="83.5" lengthAdjust="spacingAndGlyphs">SLIT3</text>
<text class="m" x="1829.0" y="1127.6" font-size="34.0" textLength="50.1" lengthAdjust="spacingAndGlyphs">LEP</text>
<text class="m" x="1829.0" y="1159.0" font-size="34.0" textLength="116.9" lengthAdjust="spacingAndGlyphs">NEUROD1</text>
<text class="m" x="1829.0" y="1190.5" font-size="34.0" textLength="83.5" lengthAdjust="spacingAndGlyphs">NCAM2</text>
<text class="m" x="1829.0" y="1221.9" font-size="34.0" textLength="100.2" lengthAdjust="spacingAndGlyphs">WNT10B</text>
<text class="m" x="1829.0" y="1253.3" font-size="34.0" textLength="83.5" lengthAdjust="spacingAndGlyphs">EOMES</text>
<text class="m" x="1829.0" y="1284.8" font-size="34.0" textLength="100.2" lengthAdjust="spacingAndGlyphs">ADGRB3</text>
<text class="m" x="1829.0" y="1316.2" font-size="34.0" textLength="83.5" lengthAdjust="spacingAndGlyphs">CNTN2</text>
<text class="m" x="1829.0" y="1347.6" font-size="34.0" textLength="50.1" lengthAdjust="spacingAndGlyphs">DCX</text>
<text class="m" x="1829.0" y="1379.1" font-size="34.0" textLength="66.8" lengthAdjust="spacingAndGlyphs">LST1</text>
<text class="m" x="1829.0" y="1410.5" font-size="34.0" textLength="66.8" lengthAdjust="spacingAndGlyphs">SOX1</text>
</svg></body></html>
